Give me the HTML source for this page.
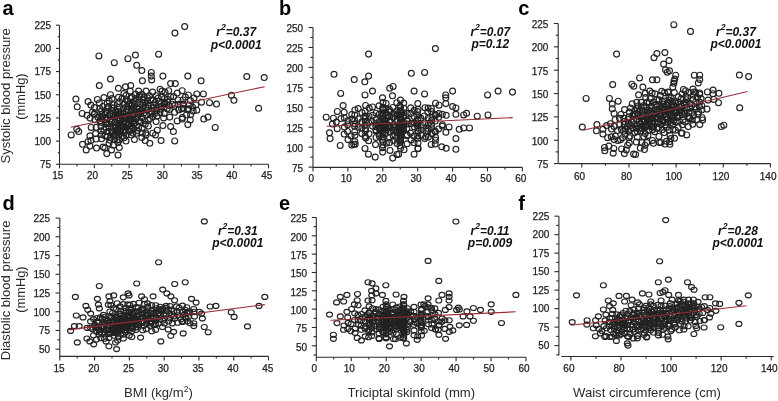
<!DOCTYPE html>
<html><head><meta charset="utf-8"><style>
html,body{margin:0;padding:0;background:#fff;width:778px;height:401px;overflow:hidden}
svg{display:block;will-change:transform}
</style></head><body>
<svg width="778" height="401" viewBox="0 0 778 401">
<g fill="none" stroke="#222" stroke-width="1.15">
<circle cx="98.9" cy="55.9" r="2.95"/>
<circle cx="114.3" cy="62.7" r="2.95"/>
<circle cx="127.9" cy="58.7" r="2.95"/>
<circle cx="135.4" cy="55.0" r="2.95"/>
<circle cx="158.6" cy="54.2" r="2.95"/>
<circle cx="136.7" cy="65.3" r="2.95"/>
<circle cx="141.8" cy="70.5" r="2.95"/>
<circle cx="151.3" cy="72.4" r="2.95"/>
<circle cx="151.3" cy="76.1" r="2.95"/>
<circle cx="151.7" cy="79.9" r="2.95"/>
<circle cx="162.9" cy="76.1" r="2.95"/>
<circle cx="110.5" cy="79.0" r="2.95"/>
<circle cx="99.3" cy="85.5" r="2.95"/>
<circle cx="118.4" cy="88.3" r="2.95"/>
<circle cx="125.5" cy="86.8" r="2.95"/>
<circle cx="130.7" cy="85.5" r="2.95"/>
<circle cx="142.4" cy="80.8" r="2.95"/>
<circle cx="130.2" cy="91.1" r="2.95"/>
<circle cx="138.6" cy="91.1" r="2.95"/>
<circle cx="146.1" cy="91.1" r="2.95"/>
<circle cx="152.6" cy="92.0" r="2.95"/>
<circle cx="160.1" cy="89.2" r="2.95"/>
<circle cx="162.0" cy="91.1" r="2.95"/>
<circle cx="184.7" cy="26.6" r="2.95"/>
<circle cx="174.9" cy="33.1" r="2.95"/>
<circle cx="187.8" cy="76.1" r="2.95"/>
<circle cx="201.1" cy="80.8" r="2.95"/>
<circle cx="246.8" cy="76.5" r="2.95"/>
<circle cx="264.2" cy="77.5" r="2.95"/>
<circle cx="170.6" cy="83.6" r="2.95"/>
<circle cx="175.3" cy="83.6" r="2.95"/>
<circle cx="168.7" cy="90.7" r="2.95"/>
<circle cx="177.2" cy="93.0" r="2.95"/>
<circle cx="182.2" cy="90.7" r="2.95"/>
<circle cx="188.4" cy="94.9" r="2.95"/>
<circle cx="196.8" cy="93.9" r="2.95"/>
<circle cx="203.4" cy="93.9" r="2.95"/>
<circle cx="165.0" cy="92.0" r="2.95"/>
<circle cx="75.9" cy="99.0" r="2.95"/>
<circle cx="77.2" cy="106.8" r="2.95"/>
<circle cx="82.1" cy="113.4" r="2.95"/>
<circle cx="87.1" cy="115.3" r="2.95"/>
<circle cx="88.1" cy="101.6" r="2.95"/>
<circle cx="90.9" cy="105.0" r="2.95"/>
<circle cx="94.6" cy="113.4" r="2.95"/>
<circle cx="97.4" cy="99.4" r="2.95"/>
<circle cx="104.0" cy="97.5" r="2.95"/>
<circle cx="110.5" cy="94.7" r="2.95"/>
<circle cx="71.2" cy="134.9" r="2.95"/>
<circle cx="76.8" cy="129.3" r="2.95"/>
<circle cx="78.7" cy="131.5" r="2.95"/>
<circle cx="82.5" cy="144.3" r="2.95"/>
<circle cx="86.2" cy="149.9" r="2.95"/>
<circle cx="89.9" cy="146.1" r="2.95"/>
<circle cx="96.5" cy="148.0" r="2.95"/>
<circle cx="90.9" cy="140.5" r="2.95"/>
<circle cx="88.1" cy="141.5" r="2.95"/>
<circle cx="104.9" cy="148.0" r="2.95"/>
<circle cx="106.8" cy="153.6" r="2.95"/>
<circle cx="111.5" cy="149.9" r="2.95"/>
<circle cx="113.3" cy="145.2" r="2.95"/>
<circle cx="118.0" cy="142.4" r="2.95"/>
<circle cx="118.0" cy="155.1" r="2.95"/>
<circle cx="142.4" cy="133.0" r="2.95"/>
<circle cx="146.1" cy="134.9" r="2.95"/>
<circle cx="145.2" cy="140.5" r="2.95"/>
<circle cx="149.8" cy="143.3" r="2.95"/>
<circle cx="155.5" cy="134.9" r="2.95"/>
<circle cx="157.3" cy="130.2" r="2.95"/>
<circle cx="161.1" cy="140.5" r="2.95"/>
<circle cx="162.9" cy="125.6" r="2.95"/>
<circle cx="133.0" cy="133.0" r="2.95"/>
<circle cx="138.6" cy="127.4" r="2.95"/>
<circle cx="231.4" cy="95.2" r="2.95"/>
<circle cx="233.9" cy="100.3" r="2.95"/>
<circle cx="258.6" cy="108.3" r="2.95"/>
<circle cx="216.5" cy="104.0" r="2.95"/>
<circle cx="209.5" cy="102.7" r="2.95"/>
<circle cx="194.0" cy="97.9" r="2.95"/>
<circle cx="201.5" cy="102.2" r="2.95"/>
<circle cx="208.0" cy="117.1" r="2.95"/>
<circle cx="203.7" cy="119.0" r="2.95"/>
<circle cx="215.2" cy="127.4" r="2.95"/>
<circle cx="190.3" cy="119.9" r="2.95"/>
<circle cx="187.8" cy="124.6" r="2.95"/>
<circle cx="182.2" cy="119.0" r="2.95"/>
<circle cx="177.2" cy="120.9" r="2.95"/>
<circle cx="173.4" cy="131.5" r="2.95"/>
<circle cx="174.7" cy="140.9" r="2.95"/>
<circle cx="193.1" cy="111.0" r="2.95"/>
<circle cx="196.8" cy="110.2" r="2.95"/>
<circle cx="188.4" cy="108.7" r="2.95"/>
<circle cx="181.5" cy="108.7" r="2.95"/>
<circle cx="183.3" cy="104.0" r="2.95"/>
<circle cx="170.6" cy="126.5" r="2.95"/>
<circle cx="142.2" cy="94.4" r="2.95"/>
<circle cx="139.8" cy="94.9" r="2.95"/>
<circle cx="135.5" cy="94.3" r="2.95"/>
<circle cx="123.9" cy="93.6" r="2.95"/>
<circle cx="126.0" cy="95.5" r="2.95"/>
<circle cx="149.5" cy="95.8" r="2.95"/>
<circle cx="156.1" cy="95.7" r="2.95"/>
<circle cx="173.6" cy="96.5" r="2.95"/>
<circle cx="185.3" cy="97.0" r="2.95"/>
<circle cx="170.6" cy="96.7" r="2.95"/>
<circle cx="161.7" cy="97.0" r="2.95"/>
<circle cx="147.6" cy="97.8" r="2.95"/>
<circle cx="144.2" cy="97.6" r="2.95"/>
<circle cx="139.3" cy="96.8" r="2.95"/>
<circle cx="132.1" cy="97.0" r="2.95"/>
<circle cx="118.5" cy="97.3" r="2.95"/>
<circle cx="112.0" cy="98.5" r="2.95"/>
<circle cx="122.0" cy="98.3" r="2.95"/>
<circle cx="130.3" cy="98.4" r="2.95"/>
<circle cx="136.0" cy="98.5" r="2.95"/>
<circle cx="158.2" cy="98.0" r="2.95"/>
<circle cx="164.5" cy="98.6" r="2.95"/>
<circle cx="167.6" cy="99.3" r="2.95"/>
<circle cx="190.5" cy="100.6" r="2.95"/>
<circle cx="183.0" cy="99.9" r="2.95"/>
<circle cx="178.0" cy="99.9" r="2.95"/>
<circle cx="153.3" cy="100.1" r="2.95"/>
<circle cx="150.8" cy="99.9" r="2.95"/>
<circle cx="143.4" cy="99.7" r="2.95"/>
<circle cx="126.2" cy="99.8" r="2.95"/>
<circle cx="109.2" cy="101.1" r="2.95"/>
<circle cx="119.6" cy="101.7" r="2.95"/>
<circle cx="127.7" cy="101.4" r="2.95"/>
<circle cx="134.1" cy="101.0" r="2.95"/>
<circle cx="138.0" cy="102.3" r="2.95"/>
<circle cx="147.3" cy="101.1" r="2.95"/>
<circle cx="159.3" cy="101.4" r="2.95"/>
<circle cx="167.7" cy="102.0" r="2.95"/>
<circle cx="164.8" cy="103.1" r="2.95"/>
<circle cx="161.1" cy="103.7" r="2.95"/>
<circle cx="154.9" cy="102.7" r="2.95"/>
<circle cx="145.0" cy="102.9" r="2.95"/>
<circle cx="142.7" cy="102.6" r="2.95"/>
<circle cx="124.1" cy="104.0" r="2.95"/>
<circle cx="117.4" cy="103.7" r="2.95"/>
<circle cx="107.2" cy="103.3" r="2.95"/>
<circle cx="99.4" cy="102.9" r="2.95"/>
<circle cx="113.4" cy="104.9" r="2.95"/>
<circle cx="129.1" cy="104.1" r="2.95"/>
<circle cx="131.7" cy="104.7" r="2.95"/>
<circle cx="134.5" cy="104.4" r="2.95"/>
<circle cx="140.8" cy="104.3" r="2.95"/>
<circle cx="148.3" cy="105.3" r="2.95"/>
<circle cx="153.2" cy="104.8" r="2.95"/>
<circle cx="163.9" cy="104.1" r="2.95"/>
<circle cx="169.1" cy="105.5" r="2.95"/>
<circle cx="172.4" cy="104.2" r="2.95"/>
<circle cx="175.0" cy="105.3" r="2.95"/>
<circle cx="178.3" cy="104.3" r="2.95"/>
<circle cx="183.1" cy="104.3" r="2.95"/>
<circle cx="189.2" cy="104.9" r="2.95"/>
<circle cx="195.8" cy="104.9" r="2.95"/>
<circle cx="161.4" cy="106.2" r="2.95"/>
<circle cx="130.9" cy="106.2" r="2.95"/>
<circle cx="126.9" cy="106.6" r="2.95"/>
<circle cx="108.4" cy="106.8" r="2.95"/>
<circle cx="102.9" cy="106.4" r="2.95"/>
<circle cx="94.3" cy="107.5" r="2.95"/>
<circle cx="107.4" cy="107.7" r="2.95"/>
<circle cx="111.8" cy="107.7" r="2.95"/>
<circle cx="113.6" cy="107.9" r="2.95"/>
<circle cx="119.5" cy="107.2" r="2.95"/>
<circle cx="123.4" cy="108.0" r="2.95"/>
<circle cx="133.2" cy="107.4" r="2.95"/>
<circle cx="142.6" cy="108.4" r="2.95"/>
<circle cx="145.9" cy="107.1" r="2.95"/>
<circle cx="148.2" cy="108.4" r="2.95"/>
<circle cx="153.7" cy="107.6" r="2.95"/>
<circle cx="164.0" cy="107.3" r="2.95"/>
<circle cx="183.3" cy="108.5" r="2.95"/>
<circle cx="192.7" cy="107.3" r="2.95"/>
<circle cx="187.7" cy="109.4" r="2.95"/>
<circle cx="178.9" cy="109.9" r="2.95"/>
<circle cx="169.4" cy="109.5" r="2.95"/>
<circle cx="167.2" cy="108.7" r="2.95"/>
<circle cx="160.8" cy="109.1" r="2.95"/>
<circle cx="156.3" cy="108.6" r="2.95"/>
<circle cx="139.4" cy="108.9" r="2.95"/>
<circle cx="137.0" cy="108.6" r="2.95"/>
<circle cx="131.5" cy="109.1" r="2.95"/>
<circle cx="128.3" cy="109.5" r="2.95"/>
<circle cx="100.0" cy="108.6" r="2.95"/>
<circle cx="101.6" cy="110.8" r="2.95"/>
<circle cx="111.3" cy="110.5" r="2.95"/>
<circle cx="118.2" cy="111.2" r="2.95"/>
<circle cx="121.2" cy="110.9" r="2.95"/>
<circle cx="141.3" cy="110.8" r="2.95"/>
<circle cx="147.0" cy="110.1" r="2.95"/>
<circle cx="151.5" cy="111.4" r="2.95"/>
<circle cx="156.9" cy="110.6" r="2.95"/>
<circle cx="174.6" cy="112.3" r="2.95"/>
<circle cx="159.9" cy="112.6" r="2.95"/>
<circle cx="139.6" cy="111.6" r="2.95"/>
<circle cx="135.7" cy="112.0" r="2.95"/>
<circle cx="130.7" cy="112.3" r="2.95"/>
<circle cx="126.3" cy="111.7" r="2.95"/>
<circle cx="115.5" cy="112.0" r="2.95"/>
<circle cx="106.3" cy="111.6" r="2.95"/>
<circle cx="92.4" cy="112.0" r="2.95"/>
<circle cx="94.3" cy="114.3" r="2.95"/>
<circle cx="109.7" cy="114.2" r="2.95"/>
<circle cx="113.1" cy="113.2" r="2.95"/>
<circle cx="118.8" cy="113.5" r="2.95"/>
<circle cx="120.5" cy="114.2" r="2.95"/>
<circle cx="122.9" cy="113.6" r="2.95"/>
<circle cx="134.3" cy="114.1" r="2.95"/>
<circle cx="137.9" cy="114.1" r="2.95"/>
<circle cx="140.5" cy="113.8" r="2.95"/>
<circle cx="143.6" cy="113.2" r="2.95"/>
<circle cx="150.7" cy="114.0" r="2.95"/>
<circle cx="154.7" cy="113.6" r="2.95"/>
<circle cx="164.3" cy="113.4" r="2.95"/>
<circle cx="190.6" cy="114.7" r="2.95"/>
<circle cx="186.5" cy="114.8" r="2.95"/>
<circle cx="157.0" cy="115.9" r="2.95"/>
<circle cx="146.6" cy="114.6" r="2.95"/>
<circle cx="133.4" cy="115.0" r="2.95"/>
<circle cx="131.2" cy="115.6" r="2.95"/>
<circle cx="127.3" cy="115.6" r="2.95"/>
<circle cx="117.1" cy="115.0" r="2.95"/>
<circle cx="115.3" cy="115.3" r="2.95"/>
<circle cx="109.8" cy="115.9" r="2.95"/>
<circle cx="104.7" cy="114.5" r="2.95"/>
<circle cx="101.7" cy="114.6" r="2.95"/>
<circle cx="97.9" cy="117.2" r="2.95"/>
<circle cx="101.5" cy="117.3" r="2.95"/>
<circle cx="107.8" cy="117.5" r="2.95"/>
<circle cx="114.4" cy="117.2" r="2.95"/>
<circle cx="121.0" cy="116.3" r="2.95"/>
<circle cx="125.4" cy="116.4" r="2.95"/>
<circle cx="129.3" cy="117.1" r="2.95"/>
<circle cx="137.7" cy="116.9" r="2.95"/>
<circle cx="152.8" cy="116.5" r="2.95"/>
<circle cx="169.7" cy="117.1" r="2.95"/>
<circle cx="182.4" cy="117.5" r="2.95"/>
<circle cx="163.6" cy="117.9" r="2.95"/>
<circle cx="149.9" cy="118.6" r="2.95"/>
<circle cx="141.8" cy="117.7" r="2.95"/>
<circle cx="136.0" cy="118.8" r="2.95"/>
<circle cx="131.7" cy="118.9" r="2.95"/>
<circle cx="130.0" cy="118.4" r="2.95"/>
<circle cx="126.2" cy="118.0" r="2.95"/>
<circle cx="123.5" cy="118.1" r="2.95"/>
<circle cx="118.7" cy="118.4" r="2.95"/>
<circle cx="106.1" cy="117.8" r="2.95"/>
<circle cx="101.5" cy="118.6" r="2.95"/>
<circle cx="90.1" cy="118.1" r="2.95"/>
<circle cx="94.8" cy="119.6" r="2.95"/>
<circle cx="105.7" cy="119.7" r="2.95"/>
<circle cx="109.9" cy="120.5" r="2.95"/>
<circle cx="116.5" cy="119.3" r="2.95"/>
<circle cx="120.2" cy="119.7" r="2.95"/>
<circle cx="128.9" cy="119.4" r="2.95"/>
<circle cx="144.8" cy="120.4" r="2.95"/>
<circle cx="148.3" cy="120.3" r="2.95"/>
<circle cx="156.1" cy="121.5" r="2.95"/>
<circle cx="140.9" cy="121.9" r="2.95"/>
<circle cx="138.7" cy="120.8" r="2.95"/>
<circle cx="132.4" cy="122.0" r="2.95"/>
<circle cx="130.4" cy="121.0" r="2.95"/>
<circle cx="124.3" cy="121.5" r="2.95"/>
<circle cx="99.8" cy="121.0" r="2.95"/>
<circle cx="101.7" cy="122.5" r="2.95"/>
<circle cx="106.9" cy="123.1" r="2.95"/>
<circle cx="111.4" cy="122.1" r="2.95"/>
<circle cx="114.9" cy="122.3" r="2.95"/>
<circle cx="118.9" cy="123.4" r="2.95"/>
<circle cx="122.5" cy="123.3" r="2.95"/>
<circle cx="125.7" cy="123.4" r="2.95"/>
<circle cx="135.0" cy="122.9" r="2.95"/>
<circle cx="145.2" cy="124.3" r="2.95"/>
<circle cx="133.7" cy="123.5" r="2.95"/>
<circle cx="128.9" cy="123.7" r="2.95"/>
<circle cx="126.0" cy="123.9" r="2.95"/>
<circle cx="118.7" cy="124.7" r="2.95"/>
<circle cx="109.0" cy="123.8" r="2.95"/>
<circle cx="106.0" cy="123.6" r="2.95"/>
<circle cx="100.9" cy="126.5" r="2.95"/>
<circle cx="115.9" cy="125.1" r="2.95"/>
<circle cx="122.7" cy="126.3" r="2.95"/>
<circle cx="131.3" cy="125.8" r="2.95"/>
<circle cx="136.4" cy="125.8" r="2.95"/>
<circle cx="148.4" cy="126.0" r="2.95"/>
<circle cx="132.4" cy="127.7" r="2.95"/>
<circle cx="124.7" cy="126.6" r="2.95"/>
<circle cx="120.7" cy="126.8" r="2.95"/>
<circle cx="115.3" cy="127.3" r="2.95"/>
<circle cx="113.2" cy="127.9" r="2.95"/>
<circle cx="109.4" cy="127.8" r="2.95"/>
<circle cx="105.9" cy="127.6" r="2.95"/>
<circle cx="96.1" cy="127.3" r="2.95"/>
<circle cx="91.2" cy="127.4" r="2.95"/>
<circle cx="117.4" cy="128.9" r="2.95"/>
<circle cx="129.9" cy="128.8" r="2.95"/>
<circle cx="133.4" cy="128.8" r="2.95"/>
<circle cx="142.2" cy="128.1" r="2.95"/>
<circle cx="137.2" cy="130.6" r="2.95"/>
<circle cx="125.6" cy="130.3" r="2.95"/>
<circle cx="123.3" cy="130.3" r="2.95"/>
<circle cx="119.5" cy="130.9" r="2.95"/>
<circle cx="111.9" cy="130.9" r="2.95"/>
<circle cx="103.8" cy="129.7" r="2.95"/>
<circle cx="101.1" cy="130.9" r="2.95"/>
<circle cx="107.9" cy="131.4" r="2.95"/>
<circle cx="115.7" cy="131.2" r="2.95"/>
<circle cx="120.4" cy="131.7" r="2.95"/>
<circle cx="129.8" cy="131.3" r="2.95"/>
<circle cx="152.8" cy="133.2" r="2.95"/>
<circle cx="145.8" cy="133.1" r="2.95"/>
<circle cx="136.4" cy="133.3" r="2.95"/>
<circle cx="123.9" cy="132.9" r="2.95"/>
<circle cx="116.9" cy="132.5" r="2.95"/>
<circle cx="111.8" cy="132.9" r="2.95"/>
<circle cx="95.6" cy="133.6" r="2.95"/>
<circle cx="101.4" cy="134.6" r="2.95"/>
<circle cx="114.0" cy="135.0" r="2.95"/>
<circle cx="118.3" cy="134.8" r="2.95"/>
<circle cx="126.2" cy="134.9" r="2.95"/>
<circle cx="131.3" cy="135.0" r="2.95"/>
<circle cx="122.3" cy="135.9" r="2.95"/>
<circle cx="115.4" cy="135.8" r="2.95"/>
<circle cx="107.5" cy="136.5" r="2.95"/>
<circle cx="105.1" cy="135.7" r="2.95"/>
<circle cx="89.9" cy="135.8" r="2.95"/>
<circle cx="110.8" cy="137.3" r="2.95"/>
<circle cx="124.1" cy="137.8" r="2.95"/>
<circle cx="141.8" cy="137.5" r="2.95"/>
<circle cx="134.4" cy="139.5" r="2.95"/>
<circle cx="119.2" cy="139.9" r="2.95"/>
<circle cx="114.6" cy="139.7" r="2.95"/>
<circle cx="101.6" cy="138.8" r="2.95"/>
<circle cx="96.0" cy="139.0" r="2.95"/>
<circle cx="109.7" cy="140.1" r="2.95"/>
<circle cx="117.0" cy="140.1" r="2.95"/>
<circle cx="126.0" cy="141.0" r="2.95"/>
<circle cx="109.0" cy="143.4" r="2.95"/>
<circle cx="103.1" cy="147.1" r="2.95"/>
<circle cx="119.3" cy="147.5" r="2.95"/>
<circle cx="368.6" cy="54.1" r="2.95"/>
<circle cx="334.0" cy="74.3" r="2.95"/>
<circle cx="354.2" cy="79.5" r="2.95"/>
<circle cx="368.6" cy="76.1" r="2.95"/>
<circle cx="364.8" cy="81.8" r="2.95"/>
<circle cx="411.3" cy="73.3" r="2.95"/>
<circle cx="372.5" cy="91.1" r="2.95"/>
<circle cx="389.7" cy="88.3" r="2.95"/>
<circle cx="393.1" cy="86.4" r="2.95"/>
<circle cx="414.1" cy="91.1" r="2.95"/>
<circle cx="340.7" cy="93.4" r="2.95"/>
<circle cx="365.0" cy="94.9" r="2.95"/>
<circle cx="392.5" cy="95.8" r="2.95"/>
<circle cx="435.4" cy="48.6" r="2.95"/>
<circle cx="424.6" cy="72.4" r="2.95"/>
<circle cx="424.6" cy="93.9" r="2.95"/>
<circle cx="445.7" cy="94.9" r="2.95"/>
<circle cx="452.6" cy="91.1" r="2.95"/>
<circle cx="487.6" cy="94.9" r="2.95"/>
<circle cx="498.1" cy="91.1" r="2.95"/>
<circle cx="512.5" cy="92.1" r="2.95"/>
<circle cx="326.2" cy="117.2" r="2.95"/>
<circle cx="329.5" cy="132.8" r="2.95"/>
<circle cx="330.1" cy="138.6" r="2.95"/>
<circle cx="340.2" cy="145.4" r="2.95"/>
<circle cx="353.8" cy="144.4" r="2.95"/>
<circle cx="368.4" cy="154.2" r="2.95"/>
<circle cx="375.2" cy="157.1" r="2.95"/>
<circle cx="392.7" cy="158.1" r="2.95"/>
<circle cx="398.6" cy="154.2" r="2.95"/>
<circle cx="400.5" cy="148.3" r="2.95"/>
<circle cx="414.1" cy="154.2" r="2.95"/>
<circle cx="332.4" cy="124.0" r="2.95"/>
<circle cx="337.3" cy="111.4" r="2.95"/>
<circle cx="343.1" cy="105.6" r="2.95"/>
<circle cx="333.4" cy="118.2" r="2.95"/>
<circle cx="336.3" cy="122.1" r="2.95"/>
<circle cx="348.0" cy="139.6" r="2.95"/>
<circle cx="354.8" cy="141.5" r="2.95"/>
<circle cx="445.8" cy="97.8" r="2.95"/>
<circle cx="435.5" cy="103.2" r="2.95"/>
<circle cx="439.0" cy="105.2" r="2.95"/>
<circle cx="445.8" cy="103.6" r="2.95"/>
<circle cx="452.6" cy="106.5" r="2.95"/>
<circle cx="455.9" cy="107.9" r="2.95"/>
<circle cx="455.9" cy="114.3" r="2.95"/>
<circle cx="463.7" cy="114.9" r="2.95"/>
<circle cx="466.6" cy="113.3" r="2.95"/>
<circle cx="477.3" cy="116.2" r="2.95"/>
<circle cx="488.0" cy="114.9" r="2.95"/>
<circle cx="442.3" cy="114.3" r="2.95"/>
<circle cx="446.2" cy="115.3" r="2.95"/>
<circle cx="449.1" cy="126.9" r="2.95"/>
<circle cx="459.2" cy="129.3" r="2.95"/>
<circle cx="463.7" cy="127.9" r="2.95"/>
<circle cx="469.5" cy="127.9" r="2.95"/>
<circle cx="455.9" cy="138.6" r="2.95"/>
<circle cx="435.5" cy="140.2" r="2.95"/>
<circle cx="431.2" cy="144.4" r="2.95"/>
<circle cx="441.7" cy="146.8" r="2.95"/>
<circle cx="446.2" cy="148.3" r="2.95"/>
<circle cx="455.9" cy="149.3" r="2.95"/>
<circle cx="418.0" cy="148.3" r="2.95"/>
<circle cx="435.5" cy="131.8" r="2.95"/>
<circle cx="442.3" cy="126.0" r="2.95"/>
<circle cx="431.6" cy="111.4" r="2.95"/>
<circle cx="435.5" cy="115.3" r="2.95"/>
<circle cx="425.8" cy="130.8" r="2.95"/>
<circle cx="425.8" cy="136.7" r="2.95"/>
<circle cx="382.5" cy="97.8" r="2.95"/>
<circle cx="400.5" cy="100.0" r="2.95"/>
<circle cx="383.0" cy="102.4" r="2.95"/>
<circle cx="386.1" cy="103.4" r="2.95"/>
<circle cx="396.8" cy="102.7" r="2.95"/>
<circle cx="403.7" cy="103.0" r="2.95"/>
<circle cx="417.8" cy="103.5" r="2.95"/>
<circle cx="365.6" cy="105.4" r="2.95"/>
<circle cx="379.0" cy="105.8" r="2.95"/>
<circle cx="399.9" cy="105.8" r="2.95"/>
<circle cx="424.9" cy="107.7" r="2.95"/>
<circle cx="410.7" cy="107.8" r="2.95"/>
<circle cx="400.5" cy="107.8" r="2.95"/>
<circle cx="392.9" cy="107.4" r="2.95"/>
<circle cx="382.8" cy="107.5" r="2.95"/>
<circle cx="372.5" cy="106.9" r="2.95"/>
<circle cx="358.2" cy="108.5" r="2.95"/>
<circle cx="369.2" cy="108.1" r="2.95"/>
<circle cx="383.1" cy="108.8" r="2.95"/>
<circle cx="385.9" cy="108.5" r="2.95"/>
<circle cx="389.4" cy="109.5" r="2.95"/>
<circle cx="403.8" cy="108.2" r="2.95"/>
<circle cx="418.1" cy="109.3" r="2.95"/>
<circle cx="428.1" cy="108.1" r="2.95"/>
<circle cx="431.4" cy="108.4" r="2.95"/>
<circle cx="414.1" cy="110.3" r="2.95"/>
<circle cx="399.9" cy="110.6" r="2.95"/>
<circle cx="396.5" cy="110.9" r="2.95"/>
<circle cx="382.8" cy="109.9" r="2.95"/>
<circle cx="354.9" cy="109.9" r="2.95"/>
<circle cx="344.2" cy="112.2" r="2.95"/>
<circle cx="365.1" cy="111.3" r="2.95"/>
<circle cx="389.6" cy="111.6" r="2.95"/>
<circle cx="400.2" cy="111.6" r="2.95"/>
<circle cx="417.5" cy="111.6" r="2.95"/>
<circle cx="427.8" cy="112.0" r="2.95"/>
<circle cx="438.9" cy="113.6" r="2.95"/>
<circle cx="410.8" cy="113.6" r="2.95"/>
<circle cx="407.3" cy="113.6" r="2.95"/>
<circle cx="403.5" cy="112.8" r="2.95"/>
<circle cx="400.6" cy="112.9" r="2.95"/>
<circle cx="393.6" cy="113.8" r="2.95"/>
<circle cx="386.0" cy="112.7" r="2.95"/>
<circle cx="382.7" cy="113.0" r="2.95"/>
<circle cx="376.0" cy="113.2" r="2.95"/>
<circle cx="362.0" cy="112.7" r="2.95"/>
<circle cx="351.7" cy="114.6" r="2.95"/>
<circle cx="354.8" cy="114.9" r="2.95"/>
<circle cx="372.6" cy="115.2" r="2.95"/>
<circle cx="379.4" cy="114.1" r="2.95"/>
<circle cx="382.6" cy="115.2" r="2.95"/>
<circle cx="396.8" cy="114.9" r="2.95"/>
<circle cx="397.1" cy="115.1" r="2.95"/>
<circle cx="400.5" cy="115.0" r="2.95"/>
<circle cx="417.7" cy="115.5" r="2.95"/>
<circle cx="435.2" cy="114.6" r="2.95"/>
<circle cx="424.3" cy="115.9" r="2.95"/>
<circle cx="414.0" cy="116.4" r="2.95"/>
<circle cx="404.0" cy="115.7" r="2.95"/>
<circle cx="400.2" cy="116.6" r="2.95"/>
<circle cx="389.5" cy="116.6" r="2.95"/>
<circle cx="386.3" cy="115.5" r="2.95"/>
<circle cx="383.0" cy="115.9" r="2.95"/>
<circle cx="369.0" cy="116.2" r="2.95"/>
<circle cx="365.2" cy="116.6" r="2.95"/>
<circle cx="365.3" cy="116.1" r="2.95"/>
<circle cx="344.4" cy="117.9" r="2.95"/>
<circle cx="383.0" cy="118.1" r="2.95"/>
<circle cx="386.3" cy="118.1" r="2.95"/>
<circle cx="393.2" cy="117.5" r="2.95"/>
<circle cx="400.2" cy="117.4" r="2.95"/>
<circle cx="399.9" cy="117.8" r="2.95"/>
<circle cx="420.8" cy="118.1" r="2.95"/>
<circle cx="428.3" cy="117.9" r="2.95"/>
<circle cx="432.0" cy="117.6" r="2.95"/>
<circle cx="438.7" cy="117.3" r="2.95"/>
<circle cx="417.6" cy="119.3" r="2.95"/>
<circle cx="407.0" cy="119.9" r="2.95"/>
<circle cx="400.3" cy="118.8" r="2.95"/>
<circle cx="400.6" cy="118.7" r="2.95"/>
<circle cx="397.0" cy="119.6" r="2.95"/>
<circle cx="382.8" cy="119.6" r="2.95"/>
<circle cx="376.1" cy="119.9" r="2.95"/>
<circle cx="365.1" cy="118.5" r="2.95"/>
<circle cx="358.4" cy="118.8" r="2.95"/>
<circle cx="351.8" cy="119.0" r="2.95"/>
<circle cx="341.0" cy="118.5" r="2.95"/>
<circle cx="347.9" cy="120.8" r="2.95"/>
<circle cx="354.7" cy="120.4" r="2.95"/>
<circle cx="379.3" cy="121.2" r="2.95"/>
<circle cx="383.2" cy="121.3" r="2.95"/>
<circle cx="385.9" cy="121.2" r="2.95"/>
<circle cx="390.0" cy="120.6" r="2.95"/>
<circle cx="397.0" cy="120.9" r="2.95"/>
<circle cx="400.6" cy="120.6" r="2.95"/>
<circle cx="407.4" cy="121.3" r="2.95"/>
<circle cx="417.9" cy="120.2" r="2.95"/>
<circle cx="431.7" cy="120.4" r="2.95"/>
<circle cx="435.2" cy="121.0" r="2.95"/>
<circle cx="424.6" cy="122.9" r="2.95"/>
<circle cx="417.3" cy="122.9" r="2.95"/>
<circle cx="404.0" cy="122.4" r="2.95"/>
<circle cx="400.3" cy="122.9" r="2.95"/>
<circle cx="389.5" cy="121.5" r="2.95"/>
<circle cx="382.8" cy="122.8" r="2.95"/>
<circle cx="379.3" cy="122.4" r="2.95"/>
<circle cx="372.2" cy="121.6" r="2.95"/>
<circle cx="368.7" cy="122.7" r="2.95"/>
<circle cx="365.4" cy="121.6" r="2.95"/>
<circle cx="362.0" cy="121.8" r="2.95"/>
<circle cx="355.0" cy="124.1" r="2.95"/>
<circle cx="375.8" cy="123.4" r="2.95"/>
<circle cx="385.9" cy="124.1" r="2.95"/>
<circle cx="400.0" cy="124.2" r="2.95"/>
<circle cx="400.0" cy="123.9" r="2.95"/>
<circle cx="407.3" cy="123.9" r="2.95"/>
<circle cx="411.0" cy="123.6" r="2.95"/>
<circle cx="414.4" cy="123.1" r="2.95"/>
<circle cx="417.9" cy="124.1" r="2.95"/>
<circle cx="428.4" cy="124.3" r="2.95"/>
<circle cx="431.5" cy="124.3" r="2.95"/>
<circle cx="442.4" cy="124.7" r="2.95"/>
<circle cx="421.3" cy="125.2" r="2.95"/>
<circle cx="417.4" cy="125.8" r="2.95"/>
<circle cx="403.4" cy="125.2" r="2.95"/>
<circle cx="399.9" cy="125.6" r="2.95"/>
<circle cx="393.5" cy="124.7" r="2.95"/>
<circle cx="389.6" cy="125.5" r="2.95"/>
<circle cx="386.0" cy="125.9" r="2.95"/>
<circle cx="382.9" cy="125.9" r="2.95"/>
<circle cx="382.7" cy="125.3" r="2.95"/>
<circle cx="365.0" cy="125.1" r="2.95"/>
<circle cx="347.6" cy="124.7" r="2.95"/>
<circle cx="344.4" cy="127.0" r="2.95"/>
<circle cx="354.6" cy="126.2" r="2.95"/>
<circle cx="358.2" cy="127.1" r="2.95"/>
<circle cx="372.5" cy="126.1" r="2.95"/>
<circle cx="375.8" cy="126.7" r="2.95"/>
<circle cx="379.2" cy="127.5" r="2.95"/>
<circle cx="382.8" cy="126.6" r="2.95"/>
<circle cx="385.9" cy="126.5" r="2.95"/>
<circle cx="393.2" cy="127.0" r="2.95"/>
<circle cx="396.7" cy="126.5" r="2.95"/>
<circle cx="400.0" cy="126.6" r="2.95"/>
<circle cx="403.4" cy="127.4" r="2.95"/>
<circle cx="414.5" cy="127.1" r="2.95"/>
<circle cx="438.6" cy="128.9" r="2.95"/>
<circle cx="431.4" cy="127.7" r="2.95"/>
<circle cx="428.3" cy="128.6" r="2.95"/>
<circle cx="418.0" cy="128.1" r="2.95"/>
<circle cx="406.8" cy="128.8" r="2.95"/>
<circle cx="403.4" cy="128.8" r="2.95"/>
<circle cx="400.0" cy="128.1" r="2.95"/>
<circle cx="400.4" cy="127.9" r="2.95"/>
<circle cx="389.5" cy="127.7" r="2.95"/>
<circle cx="383.0" cy="128.7" r="2.95"/>
<circle cx="365.5" cy="128.7" r="2.95"/>
<circle cx="361.9" cy="128.0" r="2.95"/>
<circle cx="337.2" cy="128.7" r="2.95"/>
<circle cx="376.2" cy="130.1" r="2.95"/>
<circle cx="379.5" cy="129.1" r="2.95"/>
<circle cx="382.8" cy="130.2" r="2.95"/>
<circle cx="386.1" cy="129.5" r="2.95"/>
<circle cx="393.4" cy="130.2" r="2.95"/>
<circle cx="400.2" cy="129.1" r="2.95"/>
<circle cx="400.3" cy="129.8" r="2.95"/>
<circle cx="403.6" cy="130.0" r="2.95"/>
<circle cx="421.3" cy="130.0" r="2.95"/>
<circle cx="434.8" cy="131.1" r="2.95"/>
<circle cx="428.0" cy="130.9" r="2.95"/>
<circle cx="418.1" cy="131.3" r="2.95"/>
<circle cx="418.0" cy="130.7" r="2.95"/>
<circle cx="403.6" cy="130.9" r="2.95"/>
<circle cx="400.5" cy="131.4" r="2.95"/>
<circle cx="396.6" cy="130.9" r="2.95"/>
<circle cx="393.6" cy="130.9" r="2.95"/>
<circle cx="376.0" cy="130.9" r="2.95"/>
<circle cx="365.3" cy="130.9" r="2.95"/>
<circle cx="354.7" cy="131.9" r="2.95"/>
<circle cx="347.5" cy="131.4" r="2.95"/>
<circle cx="383.1" cy="133.0" r="2.95"/>
<circle cx="385.9" cy="133.3" r="2.95"/>
<circle cx="390.0" cy="132.0" r="2.95"/>
<circle cx="397.1" cy="132.6" r="2.95"/>
<circle cx="400.3" cy="132.4" r="2.95"/>
<circle cx="410.5" cy="133.1" r="2.95"/>
<circle cx="445.9" cy="132.3" r="2.95"/>
<circle cx="432.0" cy="133.7" r="2.95"/>
<circle cx="421.4" cy="135.0" r="2.95"/>
<circle cx="407.2" cy="134.8" r="2.95"/>
<circle cx="400.2" cy="134.1" r="2.95"/>
<circle cx="382.7" cy="134.2" r="2.95"/>
<circle cx="379.1" cy="134.1" r="2.95"/>
<circle cx="369.0" cy="133.8" r="2.95"/>
<circle cx="361.8" cy="133.6" r="2.95"/>
<circle cx="344.2" cy="134.0" r="2.95"/>
<circle cx="351.1" cy="135.9" r="2.95"/>
<circle cx="355.0" cy="135.3" r="2.95"/>
<circle cx="365.2" cy="136.2" r="2.95"/>
<circle cx="379.3" cy="136.0" r="2.95"/>
<circle cx="393.1" cy="135.8" r="2.95"/>
<circle cx="400.5" cy="136.1" r="2.95"/>
<circle cx="400.6" cy="136.0" r="2.95"/>
<circle cx="406.8" cy="135.7" r="2.95"/>
<circle cx="414.0" cy="136.0" r="2.95"/>
<circle cx="417.6" cy="135.9" r="2.95"/>
<circle cx="435.5" cy="137.3" r="2.95"/>
<circle cx="428.4" cy="137.1" r="2.95"/>
<circle cx="396.6" cy="137.7" r="2.95"/>
<circle cx="389.6" cy="137.4" r="2.95"/>
<circle cx="382.9" cy="137.1" r="2.95"/>
<circle cx="376.1" cy="137.4" r="2.95"/>
<circle cx="365.7" cy="138.1" r="2.95"/>
<circle cx="400.1" cy="138.2" r="2.95"/>
<circle cx="400.6" cy="138.8" r="2.95"/>
<circle cx="417.8" cy="138.3" r="2.95"/>
<circle cx="424.7" cy="138.4" r="2.95"/>
<circle cx="411.1" cy="139.9" r="2.95"/>
<circle cx="400.0" cy="140.2" r="2.95"/>
<circle cx="393.5" cy="140.5" r="2.95"/>
<circle cx="382.5" cy="140.2" r="2.95"/>
<circle cx="368.6" cy="140.7" r="2.95"/>
<circle cx="383.1" cy="142.1" r="2.95"/>
<circle cx="389.6" cy="142.5" r="2.95"/>
<circle cx="400.5" cy="141.2" r="2.95"/>
<circle cx="435.2" cy="143.9" r="2.95"/>
<circle cx="418.0" cy="142.9" r="2.95"/>
<circle cx="414.1" cy="142.8" r="2.95"/>
<circle cx="407.1" cy="143.8" r="2.95"/>
<circle cx="400.1" cy="142.5" r="2.95"/>
<circle cx="397.1" cy="143.5" r="2.95"/>
<circle cx="386.4" cy="143.2" r="2.95"/>
<circle cx="351.8" cy="145.1" r="2.95"/>
<circle cx="355.2" cy="144.3" r="2.95"/>
<circle cx="375.5" cy="144.6" r="2.95"/>
<circle cx="382.8" cy="144.9" r="2.95"/>
<circle cx="399.9" cy="145.7" r="2.95"/>
<circle cx="365.0" cy="148.4" r="2.95"/>
<circle cx="382.5" cy="147.7" r="2.95"/>
<circle cx="418.0" cy="148.8" r="2.95"/>
<circle cx="404.0" cy="149.8" r="2.95"/>
<circle cx="390.0" cy="150.4" r="2.95"/>
<circle cx="382.7" cy="152.1" r="2.95"/>
<circle cx="396.9" cy="154.4" r="2.95"/>
<circle cx="616.6" cy="54.1" r="2.95"/>
<circle cx="656.9" cy="53.5" r="2.95"/>
<circle cx="654.0" cy="57.7" r="2.95"/>
<circle cx="664.9" cy="52.6" r="2.95"/>
<circle cx="663.6" cy="64.1" r="2.95"/>
<circle cx="665.5" cy="69.8" r="2.95"/>
<circle cx="639.6" cy="77.9" r="2.95"/>
<circle cx="612.7" cy="84.6" r="2.95"/>
<circle cx="631.9" cy="84.2" r="2.95"/>
<circle cx="633.8" cy="86.2" r="2.95"/>
<circle cx="642.9" cy="87.1" r="2.95"/>
<circle cx="652.5" cy="79.8" r="2.95"/>
<circle cx="656.9" cy="79.8" r="2.95"/>
<circle cx="649.8" cy="91.0" r="2.95"/>
<circle cx="652.1" cy="92.9" r="2.95"/>
<circle cx="661.7" cy="91.3" r="2.95"/>
<circle cx="638.6" cy="94.8" r="2.95"/>
<circle cx="645.3" cy="93.3" r="2.95"/>
<circle cx="673.8" cy="24.7" r="2.95"/>
<circle cx="690.5" cy="31.4" r="2.95"/>
<circle cx="669.0" cy="60.6" r="2.95"/>
<circle cx="669.5" cy="70.8" r="2.95"/>
<circle cx="675.7" cy="75.2" r="2.95"/>
<circle cx="674.7" cy="79.0" r="2.95"/>
<circle cx="673.8" cy="83.3" r="2.95"/>
<circle cx="672.8" cy="87.1" r="2.95"/>
<circle cx="694.3" cy="75.2" r="2.95"/>
<circle cx="699.7" cy="75.2" r="2.95"/>
<circle cx="699.7" cy="79.4" r="2.95"/>
<circle cx="698.3" cy="82.9" r="2.95"/>
<circle cx="739.4" cy="75.0" r="2.95"/>
<circle cx="748.6" cy="76.6" r="2.95"/>
<circle cx="683.4" cy="89.4" r="2.95"/>
<circle cx="693.0" cy="89.0" r="2.95"/>
<circle cx="693.9" cy="91.9" r="2.95"/>
<circle cx="699.7" cy="92.9" r="2.95"/>
<circle cx="707.4" cy="91.9" r="2.95"/>
<circle cx="713.1" cy="90.0" r="2.95"/>
<circle cx="718.9" cy="93.3" r="2.95"/>
<circle cx="668.0" cy="91.9" r="2.95"/>
<circle cx="586.1" cy="98.4" r="2.95"/>
<circle cx="609.4" cy="98.4" r="2.95"/>
<circle cx="618.2" cy="101.2" r="2.95"/>
<circle cx="582.3" cy="127.0" r="2.95"/>
<circle cx="596.9" cy="124.6" r="2.95"/>
<circle cx="596.4" cy="130.8" r="2.95"/>
<circle cx="602.9" cy="134.0" r="2.95"/>
<circle cx="604.8" cy="150.8" r="2.95"/>
<circle cx="608.9" cy="146.1" r="2.95"/>
<circle cx="613.8" cy="148.4" r="2.95"/>
<circle cx="613.2" cy="153.2" r="2.95"/>
<circle cx="617.9" cy="140.5" r="2.95"/>
<circle cx="621.6" cy="148.9" r="2.95"/>
<circle cx="626.3" cy="149.9" r="2.95"/>
<circle cx="627.6" cy="145.2" r="2.95"/>
<circle cx="624.4" cy="153.6" r="2.95"/>
<circle cx="635.6" cy="154.5" r="2.95"/>
<circle cx="640.3" cy="148.0" r="2.95"/>
<circle cx="645.0" cy="145.2" r="2.95"/>
<circle cx="644.4" cy="149.5" r="2.95"/>
<circle cx="653.4" cy="143.3" r="2.95"/>
<circle cx="660.9" cy="142.4" r="2.95"/>
<circle cx="602.9" cy="129.3" r="2.95"/>
<circle cx="606.6" cy="125.5" r="2.95"/>
<circle cx="610.4" cy="123.7" r="2.95"/>
<circle cx="612.3" cy="104.0" r="2.95"/>
<circle cx="614.1" cy="113.4" r="2.95"/>
<circle cx="612.3" cy="108.7" r="2.95"/>
<circle cx="607.6" cy="137.7" r="2.95"/>
<circle cx="611.3" cy="136.8" r="2.95"/>
<circle cx="614.1" cy="139.6" r="2.95"/>
<circle cx="622.5" cy="137.7" r="2.95"/>
<circle cx="629.1" cy="137.7" r="2.95"/>
<circle cx="739.7" cy="107.8" r="2.95"/>
<circle cx="721.3" cy="126.5" r="2.95"/>
<circle cx="723.8" cy="125.2" r="2.95"/>
<circle cx="718.5" cy="102.7" r="2.95"/>
<circle cx="713.8" cy="99.4" r="2.95"/>
<circle cx="712.9" cy="93.7" r="2.95"/>
<circle cx="686.7" cy="134.9" r="2.95"/>
<circle cx="682.0" cy="133.0" r="2.95"/>
<circle cx="699.8" cy="124.6" r="2.95"/>
<circle cx="702.6" cy="119.9" r="2.95"/>
<circle cx="675.5" cy="130.2" r="2.95"/>
<circle cx="670.8" cy="138.6" r="2.95"/>
<circle cx="669.9" cy="144.3" r="2.95"/>
<circle cx="674.5" cy="138.3" r="2.95"/>
<circle cx="689.5" cy="118.1" r="2.95"/>
<circle cx="692.3" cy="119.9" r="2.95"/>
<circle cx="697.9" cy="114.3" r="2.95"/>
<circle cx="667.3" cy="72.2" r="2.95"/>
<circle cx="674.0" cy="81.2" r="2.95"/>
<circle cx="604.5" cy="147.4" r="2.95"/>
<circle cx="633.6" cy="154.1" r="2.95"/>
<circle cx="665.0" cy="144.0" r="2.95"/>
<circle cx="669.5" cy="141.8" r="2.95"/>
<circle cx="685.6" cy="90.7" r="2.95"/>
<circle cx="664.5" cy="92.6" r="2.95"/>
<circle cx="668.3" cy="92.4" r="2.95"/>
<circle cx="674.3" cy="92.5" r="2.95"/>
<circle cx="689.1" cy="92.6" r="2.95"/>
<circle cx="695.6" cy="92.3" r="2.95"/>
<circle cx="699.7" cy="94.3" r="2.95"/>
<circle cx="682.0" cy="93.9" r="2.95"/>
<circle cx="655.0" cy="93.8" r="2.95"/>
<circle cx="660.3" cy="95.6" r="2.95"/>
<circle cx="693.3" cy="95.3" r="2.95"/>
<circle cx="697.3" cy="97.4" r="2.95"/>
<circle cx="687.7" cy="97.4" r="2.95"/>
<circle cx="685.9" cy="96.6" r="2.95"/>
<circle cx="678.3" cy="96.8" r="2.95"/>
<circle cx="671.0" cy="97.5" r="2.95"/>
<circle cx="669.0" cy="96.7" r="2.95"/>
<circle cx="645.7" cy="97.6" r="2.95"/>
<circle cx="650.2" cy="98.6" r="2.95"/>
<circle cx="681.2" cy="98.7" r="2.95"/>
<circle cx="701.1" cy="98.5" r="2.95"/>
<circle cx="708.0" cy="100.1" r="2.95"/>
<circle cx="692.8" cy="99.6" r="2.95"/>
<circle cx="686.4" cy="99.7" r="2.95"/>
<circle cx="674.8" cy="100.9" r="2.95"/>
<circle cx="669.3" cy="100.1" r="2.95"/>
<circle cx="664.3" cy="100.9" r="2.95"/>
<circle cx="659.1" cy="99.8" r="2.95"/>
<circle cx="656.7" cy="99.9" r="2.95"/>
<circle cx="636.8" cy="102.3" r="2.95"/>
<circle cx="641.2" cy="102.3" r="2.95"/>
<circle cx="646.8" cy="102.4" r="2.95"/>
<circle cx="653.5" cy="101.9" r="2.95"/>
<circle cx="662.6" cy="101.8" r="2.95"/>
<circle cx="672.0" cy="101.5" r="2.95"/>
<circle cx="678.5" cy="102.0" r="2.95"/>
<circle cx="695.6" cy="102.2" r="2.95"/>
<circle cx="699.6" cy="102.0" r="2.95"/>
<circle cx="690.0" cy="103.5" r="2.95"/>
<circle cx="686.2" cy="102.7" r="2.95"/>
<circle cx="683.4" cy="102.9" r="2.95"/>
<circle cx="675.8" cy="102.8" r="2.95"/>
<circle cx="668.4" cy="103.6" r="2.95"/>
<circle cx="649.3" cy="102.7" r="2.95"/>
<circle cx="632.2" cy="103.8" r="2.95"/>
<circle cx="643.7" cy="105.5" r="2.95"/>
<circle cx="656.2" cy="104.2" r="2.95"/>
<circle cx="663.3" cy="104.1" r="2.95"/>
<circle cx="666.2" cy="105.1" r="2.95"/>
<circle cx="671.8" cy="104.4" r="2.95"/>
<circle cx="684.8" cy="104.5" r="2.95"/>
<circle cx="701.7" cy="105.5" r="2.95"/>
<circle cx="699.4" cy="106.6" r="2.95"/>
<circle cx="695.1" cy="106.8" r="2.95"/>
<circle cx="691.7" cy="105.7" r="2.95"/>
<circle cx="681.7" cy="106.0" r="2.95"/>
<circle cx="675.8" cy="106.8" r="2.95"/>
<circle cx="668.6" cy="106.9" r="2.95"/>
<circle cx="659.8" cy="105.7" r="2.95"/>
<circle cx="656.8" cy="106.7" r="2.95"/>
<circle cx="651.8" cy="106.2" r="2.95"/>
<circle cx="638.1" cy="105.9" r="2.95"/>
<circle cx="630.5" cy="107.9" r="2.95"/>
<circle cx="641.3" cy="107.3" r="2.95"/>
<circle cx="645.8" cy="107.0" r="2.95"/>
<circle cx="649.5" cy="107.5" r="2.95"/>
<circle cx="662.5" cy="107.3" r="2.95"/>
<circle cx="672.4" cy="107.1" r="2.95"/>
<circle cx="679.7" cy="107.4" r="2.95"/>
<circle cx="686.5" cy="107.7" r="2.95"/>
<circle cx="690.0" cy="108.3" r="2.95"/>
<circle cx="707.0" cy="109.1" r="2.95"/>
<circle cx="701.8" cy="109.7" r="2.95"/>
<circle cx="695.5" cy="109.3" r="2.95"/>
<circle cx="680.7" cy="109.8" r="2.95"/>
<circle cx="676.2" cy="109.5" r="2.95"/>
<circle cx="668.4" cy="108.8" r="2.95"/>
<circle cx="665.2" cy="109.8" r="2.95"/>
<circle cx="661.1" cy="108.8" r="2.95"/>
<circle cx="658.8" cy="109.3" r="2.95"/>
<circle cx="655.8" cy="109.9" r="2.95"/>
<circle cx="637.3" cy="108.7" r="2.95"/>
<circle cx="624.6" cy="109.6" r="2.95"/>
<circle cx="634.8" cy="110.2" r="2.95"/>
<circle cx="639.5" cy="110.4" r="2.95"/>
<circle cx="643.1" cy="111.2" r="2.95"/>
<circle cx="648.6" cy="110.1" r="2.95"/>
<circle cx="664.0" cy="110.6" r="2.95"/>
<circle cx="669.9" cy="110.3" r="2.95"/>
<circle cx="673.7" cy="110.5" r="2.95"/>
<circle cx="674.4" cy="111.2" r="2.95"/>
<circle cx="679.8" cy="111.1" r="2.95"/>
<circle cx="683.9" cy="111.3" r="2.95"/>
<circle cx="698.5" cy="112.0" r="2.95"/>
<circle cx="691.8" cy="112.4" r="2.95"/>
<circle cx="688.9" cy="112.6" r="2.95"/>
<circle cx="681.6" cy="112.6" r="2.95"/>
<circle cx="676.6" cy="112.8" r="2.95"/>
<circle cx="669.3" cy="112.7" r="2.95"/>
<circle cx="667.8" cy="111.6" r="2.95"/>
<circle cx="660.6" cy="112.4" r="2.95"/>
<circle cx="657.5" cy="111.6" r="2.95"/>
<circle cx="650.4" cy="111.8" r="2.95"/>
<circle cx="646.8" cy="112.7" r="2.95"/>
<circle cx="629.3" cy="112.1" r="2.95"/>
<circle cx="620.9" cy="114.4" r="2.95"/>
<circle cx="633.3" cy="114.4" r="2.95"/>
<circle cx="635.1" cy="113.8" r="2.95"/>
<circle cx="642.1" cy="113.7" r="2.95"/>
<circle cx="649.4" cy="114.4" r="2.95"/>
<circle cx="652.2" cy="114.0" r="2.95"/>
<circle cx="653.9" cy="114.0" r="2.95"/>
<circle cx="656.1" cy="113.9" r="2.95"/>
<circle cx="660.7" cy="114.4" r="2.95"/>
<circle cx="665.1" cy="113.4" r="2.95"/>
<circle cx="670.7" cy="113.3" r="2.95"/>
<circle cx="684.8" cy="113.4" r="2.95"/>
<circle cx="693.5" cy="115.7" r="2.95"/>
<circle cx="682.3" cy="114.6" r="2.95"/>
<circle cx="679.4" cy="115.5" r="2.95"/>
<circle cx="670.1" cy="115.5" r="2.95"/>
<circle cx="664.8" cy="114.6" r="2.95"/>
<circle cx="658.5" cy="114.6" r="2.95"/>
<circle cx="643.8" cy="115.1" r="2.95"/>
<circle cx="637.7" cy="114.6" r="2.95"/>
<circle cx="628.9" cy="116.7" r="2.95"/>
<circle cx="632.9" cy="116.3" r="2.95"/>
<circle cx="640.4" cy="117.0" r="2.95"/>
<circle cx="646.9" cy="116.3" r="2.95"/>
<circle cx="649.4" cy="117.5" r="2.95"/>
<circle cx="655.9" cy="116.4" r="2.95"/>
<circle cx="660.8" cy="116.1" r="2.95"/>
<circle cx="665.3" cy="117.5" r="2.95"/>
<circle cx="672.5" cy="116.7" r="2.95"/>
<circle cx="676.8" cy="117.3" r="2.95"/>
<circle cx="677.5" cy="117.0" r="2.95"/>
<circle cx="688.7" cy="116.4" r="2.95"/>
<circle cx="702.2" cy="117.7" r="2.95"/>
<circle cx="689.3" cy="118.5" r="2.95"/>
<circle cx="673.1" cy="118.2" r="2.95"/>
<circle cx="667.5" cy="118.7" r="2.95"/>
<circle cx="658.0" cy="117.7" r="2.95"/>
<circle cx="655.8" cy="118.8" r="2.95"/>
<circle cx="652.3" cy="118.2" r="2.95"/>
<circle cx="651.2" cy="118.3" r="2.95"/>
<circle cx="647.7" cy="118.9" r="2.95"/>
<circle cx="643.4" cy="118.9" r="2.95"/>
<circle cx="636.8" cy="119.0" r="2.95"/>
<circle cx="623.7" cy="118.1" r="2.95"/>
<circle cx="619.5" cy="118.3" r="2.95"/>
<circle cx="615.1" cy="119.7" r="2.95"/>
<circle cx="627.9" cy="119.3" r="2.95"/>
<circle cx="649.3" cy="119.7" r="2.95"/>
<circle cx="661.9" cy="120.3" r="2.95"/>
<circle cx="670.7" cy="120.3" r="2.95"/>
<circle cx="683.0" cy="120.2" r="2.95"/>
<circle cx="696.7" cy="119.5" r="2.95"/>
<circle cx="685.2" cy="122.0" r="2.95"/>
<circle cx="679.5" cy="121.3" r="2.95"/>
<circle cx="673.8" cy="120.6" r="2.95"/>
<circle cx="665.0" cy="121.9" r="2.95"/>
<circle cx="663.2" cy="121.3" r="2.95"/>
<circle cx="658.5" cy="122.0" r="2.95"/>
<circle cx="647.9" cy="122.0" r="2.95"/>
<circle cx="644.7" cy="122.0" r="2.95"/>
<circle cx="641.8" cy="121.4" r="2.95"/>
<circle cx="638.9" cy="121.3" r="2.95"/>
<circle cx="633.9" cy="120.8" r="2.95"/>
<circle cx="624.0" cy="121.5" r="2.95"/>
<circle cx="628.4" cy="123.2" r="2.95"/>
<circle cx="631.5" cy="122.2" r="2.95"/>
<circle cx="649.3" cy="122.6" r="2.95"/>
<circle cx="655.1" cy="122.7" r="2.95"/>
<circle cx="657.2" cy="123.3" r="2.95"/>
<circle cx="667.5" cy="122.2" r="2.95"/>
<circle cx="670.9" cy="122.4" r="2.95"/>
<circle cx="676.2" cy="122.2" r="2.95"/>
<circle cx="692.7" cy="124.3" r="2.95"/>
<circle cx="682.5" cy="124.7" r="2.95"/>
<circle cx="672.6" cy="124.8" r="2.95"/>
<circle cx="664.9" cy="124.9" r="2.95"/>
<circle cx="660.9" cy="124.4" r="2.95"/>
<circle cx="653.0" cy="124.0" r="2.95"/>
<circle cx="645.9" cy="124.9" r="2.95"/>
<circle cx="640.3" cy="124.5" r="2.95"/>
<circle cx="634.2" cy="124.4" r="2.95"/>
<circle cx="624.2" cy="124.5" r="2.95"/>
<circle cx="619.9" cy="124.5" r="2.95"/>
<circle cx="614.1" cy="126.4" r="2.95"/>
<circle cx="627.4" cy="126.4" r="2.95"/>
<circle cx="630.6" cy="125.6" r="2.95"/>
<circle cx="637.3" cy="125.7" r="2.95"/>
<circle cx="643.0" cy="126.1" r="2.95"/>
<circle cx="649.4" cy="125.7" r="2.95"/>
<circle cx="653.7" cy="126.2" r="2.95"/>
<circle cx="688.3" cy="126.6" r="2.95"/>
<circle cx="678.2" cy="127.4" r="2.95"/>
<circle cx="666.4" cy="127.4" r="2.95"/>
<circle cx="658.5" cy="127.6" r="2.95"/>
<circle cx="652.5" cy="127.1" r="2.95"/>
<circle cx="646.2" cy="126.8" r="2.95"/>
<circle cx="640.0" cy="128.0" r="2.95"/>
<circle cx="611.5" cy="129.0" r="2.95"/>
<circle cx="621.3" cy="129.3" r="2.95"/>
<circle cx="625.3" cy="129.0" r="2.95"/>
<circle cx="630.6" cy="129.3" r="2.95"/>
<circle cx="632.8" cy="128.2" r="2.95"/>
<circle cx="636.7" cy="128.2" r="2.95"/>
<circle cx="642.0" cy="128.2" r="2.95"/>
<circle cx="644.4" cy="128.0" r="2.95"/>
<circle cx="656.9" cy="128.5" r="2.95"/>
<circle cx="673.0" cy="129.4" r="2.95"/>
<circle cx="669.2" cy="130.2" r="2.95"/>
<circle cx="662.3" cy="129.8" r="2.95"/>
<circle cx="652.5" cy="129.7" r="2.95"/>
<circle cx="648.8" cy="130.5" r="2.95"/>
<circle cx="617.5" cy="130.6" r="2.95"/>
<circle cx="623.5" cy="131.3" r="2.95"/>
<circle cx="628.6" cy="131.2" r="2.95"/>
<circle cx="637.4" cy="131.8" r="2.95"/>
<circle cx="641.1" cy="131.1" r="2.95"/>
<circle cx="654.7" cy="131.7" r="2.95"/>
<circle cx="681.4" cy="133.3" r="2.95"/>
<circle cx="664.1" cy="132.6" r="2.95"/>
<circle cx="645.2" cy="133.6" r="2.95"/>
<circle cx="634.7" cy="132.6" r="2.95"/>
<circle cx="625.2" cy="134.3" r="2.95"/>
<circle cx="647.9" cy="135.4" r="2.95"/>
<circle cx="670.1" cy="135.4" r="2.95"/>
<circle cx="658.9" cy="136.4" r="2.95"/>
<circle cx="643.8" cy="136.5" r="2.95"/>
<circle cx="637.3" cy="136.9" r="2.95"/>
<circle cx="630.0" cy="136.1" r="2.95"/>
<circle cx="615.3" cy="136.1" r="2.95"/>
<circle cx="620.5" cy="139.7" r="2.95"/>
<circle cx="652.4" cy="140.4" r="2.95"/>
<circle cx="666.4" cy="141.3" r="2.95"/>
<circle cx="659.3" cy="142.5" r="2.95"/>
<circle cx="646.8" cy="142.5" r="2.95"/>
<circle cx="642.0" cy="142.6" r="2.95"/>
<circle cx="636.3" cy="142.0" r="2.95"/>
<circle cx="629.3" cy="143.1" r="2.95"/>
<ellipse cx="158.6" cy="262.2" rx="3" ry="2.5"/>
<ellipse cx="136.7" cy="283.5" rx="3" ry="2.5"/>
<ellipse cx="99.3" cy="286.0" rx="3" ry="2.5"/>
<ellipse cx="204.3" cy="221.4" rx="3" ry="2.5"/>
<ellipse cx="174.7" cy="284.0" rx="3" ry="2.5"/>
<ellipse cx="185.2" cy="282.2" rx="3" ry="2.5"/>
<ellipse cx="75.4" cy="296.9" rx="3" ry="2.5"/>
<ellipse cx="97.4" cy="298.8" rx="3" ry="2.5"/>
<ellipse cx="98.4" cy="304.6" rx="3" ry="2.5"/>
<ellipse cx="99.3" cy="308.4" rx="3" ry="2.5"/>
<ellipse cx="85.9" cy="305.9" rx="3" ry="2.5"/>
<ellipse cx="87.8" cy="309.8" rx="3" ry="2.5"/>
<ellipse cx="90.7" cy="313.6" rx="3" ry="2.5"/>
<ellipse cx="108.9" cy="296.3" rx="3" ry="2.5"/>
<ellipse cx="113.7" cy="295.4" rx="3" ry="2.5"/>
<ellipse cx="109.9" cy="301.1" rx="3" ry="2.5"/>
<ellipse cx="110.9" cy="305.0" rx="3" ry="2.5"/>
<ellipse cx="123.3" cy="297.3" rx="3" ry="2.5"/>
<ellipse cx="128.1" cy="293.4" rx="3" ry="2.5"/>
<ellipse cx="129.1" cy="295.4" rx="3" ry="2.5"/>
<ellipse cx="141.6" cy="296.3" rx="3" ry="2.5"/>
<ellipse cx="144.5" cy="299.2" rx="3" ry="2.5"/>
<ellipse cx="153.1" cy="296.3" rx="3" ry="2.5"/>
<ellipse cx="162.7" cy="289.6" rx="3" ry="2.5"/>
<ellipse cx="76.3" cy="315.5" rx="3" ry="2.5"/>
<ellipse cx="83.0" cy="317.4" rx="3" ry="2.5"/>
<ellipse cx="70.6" cy="330.9" rx="3" ry="2.5"/>
<ellipse cx="77.3" cy="342.4" rx="3" ry="2.5"/>
<ellipse cx="86.9" cy="338.5" rx="3" ry="2.5"/>
<ellipse cx="89.8" cy="341.4" rx="3" ry="2.5"/>
<ellipse cx="96.5" cy="339.5" rx="3" ry="2.5"/>
<ellipse cx="106.1" cy="341.4" rx="3" ry="2.5"/>
<ellipse cx="108.9" cy="346.2" rx="3" ry="2.5"/>
<ellipse cx="116.6" cy="349.1" rx="3" ry="2.5"/>
<ellipse cx="123.3" cy="338.5" rx="3" ry="2.5"/>
<ellipse cx="117.6" cy="340.5" rx="3" ry="2.5"/>
<ellipse cx="140.6" cy="337.6" rx="3" ry="2.5"/>
<ellipse cx="160.8" cy="341.4" rx="3" ry="2.5"/>
<ellipse cx="74.4" cy="326.1" rx="3" ry="2.5"/>
<ellipse cx="79.2" cy="326.1" rx="3" ry="2.5"/>
<ellipse cx="264.8" cy="296.9" rx="3" ry="2.5"/>
<ellipse cx="259.0" cy="305.9" rx="3" ry="2.5"/>
<ellipse cx="191.5" cy="298.8" rx="3" ry="2.5"/>
<ellipse cx="196.1" cy="302.6" rx="3" ry="2.5"/>
<ellipse cx="210.1" cy="306.5" rx="3" ry="2.5"/>
<ellipse cx="215.9" cy="305.9" rx="3" ry="2.5"/>
<ellipse cx="231.2" cy="312.2" rx="3" ry="2.5"/>
<ellipse cx="234.1" cy="316.9" rx="3" ry="2.5"/>
<ellipse cx="247.5" cy="326.4" rx="3" ry="2.5"/>
<ellipse cx="202.4" cy="318.4" rx="3" ry="2.5"/>
<ellipse cx="204.3" cy="327.0" rx="3" ry="2.5"/>
<ellipse cx="208.2" cy="332.2" rx="3" ry="2.5"/>
<ellipse cx="183.2" cy="333.4" rx="3" ry="2.5"/>
<ellipse cx="170.8" cy="335.7" rx="3" ry="2.5"/>
<ellipse cx="173.6" cy="331.8" rx="3" ry="2.5"/>
<ellipse cx="174.6" cy="300.2" rx="3" ry="2.5"/>
<ellipse cx="170.8" cy="296.3" rx="3" ry="2.5"/>
<ellipse cx="166.9" cy="293.4" rx="3" ry="2.5"/>
<ellipse cx="188.0" cy="311.7" rx="3" ry="2.5"/>
<ellipse cx="193.8" cy="311.7" rx="3" ry="2.5"/>
<ellipse cx="199.5" cy="311.7" rx="3" ry="2.5"/>
<ellipse cx="201.5" cy="313.6" rx="3" ry="2.5"/>
<ellipse cx="190.0" cy="323.2" rx="3" ry="2.5"/>
<ellipse cx="193.8" cy="323.2" rx="3" ry="2.5"/>
<ellipse cx="182.3" cy="321.3" rx="3" ry="2.5"/>
<ellipse cx="186.1" cy="318.4" rx="3" ry="2.5"/>
<ellipse cx="139.1" cy="302.7" rx="3" ry="2.5"/>
<ellipse cx="117.1" cy="303.2" rx="3" ry="2.5"/>
<ellipse cx="123.3" cy="304.1" rx="3" ry="2.5"/>
<ellipse cx="127.8" cy="304.3" rx="3" ry="2.5"/>
<ellipse cx="133.4" cy="303.9" rx="3" ry="2.5"/>
<ellipse cx="144.4" cy="303.9" rx="3" ry="2.5"/>
<ellipse cx="147.6" cy="303.3" rx="3" ry="2.5"/>
<ellipse cx="182.5" cy="305.6" rx="3" ry="2.5"/>
<ellipse cx="170.0" cy="306.0" rx="3" ry="2.5"/>
<ellipse cx="166.2" cy="305.8" rx="3" ry="2.5"/>
<ellipse cx="155.8" cy="305.2" rx="3" ry="2.5"/>
<ellipse cx="151.5" cy="305.1" rx="3" ry="2.5"/>
<ellipse cx="129.8" cy="304.8" rx="3" ry="2.5"/>
<ellipse cx="108.3" cy="304.8" rx="3" ry="2.5"/>
<ellipse cx="120.2" cy="306.4" rx="3" ry="2.5"/>
<ellipse cx="136.2" cy="307.1" rx="3" ry="2.5"/>
<ellipse cx="147.8" cy="306.8" rx="3" ry="2.5"/>
<ellipse cx="160.2" cy="306.7" rx="3" ry="2.5"/>
<ellipse cx="176.5" cy="306.4" rx="3" ry="2.5"/>
<ellipse cx="186.8" cy="307.2" rx="3" ry="2.5"/>
<ellipse cx="179.1" cy="307.7" rx="3" ry="2.5"/>
<ellipse cx="165.7" cy="307.7" rx="3" ry="2.5"/>
<ellipse cx="162.9" cy="308.5" rx="3" ry="2.5"/>
<ellipse cx="156.2" cy="308.2" rx="3" ry="2.5"/>
<ellipse cx="142.6" cy="308.7" rx="3" ry="2.5"/>
<ellipse cx="138.3" cy="307.8" rx="3" ry="2.5"/>
<ellipse cx="129.2" cy="308.4" rx="3" ry="2.5"/>
<ellipse cx="125.1" cy="308.3" rx="3" ry="2.5"/>
<ellipse cx="113.6" cy="308.0" rx="3" ry="2.5"/>
<ellipse cx="116.2" cy="309.1" rx="3" ry="2.5"/>
<ellipse cx="131.1" cy="309.9" rx="3" ry="2.5"/>
<ellipse cx="141.4" cy="310.0" rx="3" ry="2.5"/>
<ellipse cx="143.7" cy="309.8" rx="3" ry="2.5"/>
<ellipse cx="147.4" cy="310.2" rx="3" ry="2.5"/>
<ellipse cx="159.1" cy="309.3" rx="3" ry="2.5"/>
<ellipse cx="161.4" cy="310.5" rx="3" ry="2.5"/>
<ellipse cx="171.2" cy="309.6" rx="3" ry="2.5"/>
<ellipse cx="185.3" cy="310.0" rx="3" ry="2.5"/>
<ellipse cx="193.8" cy="309.0" rx="3" ry="2.5"/>
<ellipse cx="182.3" cy="311.9" rx="3" ry="2.5"/>
<ellipse cx="177.4" cy="311.8" rx="3" ry="2.5"/>
<ellipse cx="173.8" cy="311.0" rx="3" ry="2.5"/>
<ellipse cx="166.3" cy="310.8" rx="3" ry="2.5"/>
<ellipse cx="156.2" cy="311.6" rx="3" ry="2.5"/>
<ellipse cx="151.9" cy="310.6" rx="3" ry="2.5"/>
<ellipse cx="137.6" cy="311.3" rx="3" ry="2.5"/>
<ellipse cx="133.3" cy="311.5" rx="3" ry="2.5"/>
<ellipse cx="129.3" cy="311.9" rx="3" ry="2.5"/>
<ellipse cx="123.7" cy="310.9" rx="3" ry="2.5"/>
<ellipse cx="120.7" cy="310.9" rx="3" ry="2.5"/>
<ellipse cx="109.9" cy="311.5" rx="3" ry="2.5"/>
<ellipse cx="112.5" cy="313.0" rx="3" ry="2.5"/>
<ellipse cx="125.8" cy="312.6" rx="3" ry="2.5"/>
<ellipse cx="134.4" cy="312.8" rx="3" ry="2.5"/>
<ellipse cx="141.4" cy="312.4" rx="3" ry="2.5"/>
<ellipse cx="146.6" cy="312.7" rx="3" ry="2.5"/>
<ellipse cx="150.3" cy="312.4" rx="3" ry="2.5"/>
<ellipse cx="153.7" cy="313.4" rx="3" ry="2.5"/>
<ellipse cx="158.8" cy="313.4" rx="3" ry="2.5"/>
<ellipse cx="169.4" cy="313.1" rx="3" ry="2.5"/>
<ellipse cx="186.9" cy="312.8" rx="3" ry="2.5"/>
<ellipse cx="189.9" cy="312.1" rx="3" ry="2.5"/>
<ellipse cx="184.5" cy="314.3" rx="3" ry="2.5"/>
<ellipse cx="163.7" cy="313.9" rx="3" ry="2.5"/>
<ellipse cx="157.5" cy="314.4" rx="3" ry="2.5"/>
<ellipse cx="142.7" cy="313.8" rx="3" ry="2.5"/>
<ellipse cx="132.4" cy="313.5" rx="3" ry="2.5"/>
<ellipse cx="128.8" cy="315.0" rx="3" ry="2.5"/>
<ellipse cx="124.0" cy="315.0" rx="3" ry="2.5"/>
<ellipse cx="119.9" cy="313.8" rx="3" ry="2.5"/>
<ellipse cx="103.5" cy="314.8" rx="3" ry="2.5"/>
<ellipse cx="108.9" cy="316.3" rx="3" ry="2.5"/>
<ellipse cx="115.6" cy="315.2" rx="3" ry="2.5"/>
<ellipse cx="128.0" cy="315.6" rx="3" ry="2.5"/>
<ellipse cx="132.8" cy="315.3" rx="3" ry="2.5"/>
<ellipse cx="136.7" cy="316.1" rx="3" ry="2.5"/>
<ellipse cx="139.1" cy="315.0" rx="3" ry="2.5"/>
<ellipse cx="146.0" cy="315.8" rx="3" ry="2.5"/>
<ellipse cx="147.2" cy="315.0" rx="3" ry="2.5"/>
<ellipse cx="150.9" cy="316.4" rx="3" ry="2.5"/>
<ellipse cx="160.6" cy="315.3" rx="3" ry="2.5"/>
<ellipse cx="165.9" cy="315.5" rx="3" ry="2.5"/>
<ellipse cx="171.5" cy="315.3" rx="3" ry="2.5"/>
<ellipse cx="173.9" cy="316.4" rx="3" ry="2.5"/>
<ellipse cx="178.0" cy="315.2" rx="3" ry="2.5"/>
<ellipse cx="194.5" cy="316.6" rx="3" ry="2.5"/>
<ellipse cx="188.3" cy="316.9" rx="3" ry="2.5"/>
<ellipse cx="185.1" cy="317.1" rx="3" ry="2.5"/>
<ellipse cx="156.7" cy="317.8" rx="3" ry="2.5"/>
<ellipse cx="153.5" cy="317.9" rx="3" ry="2.5"/>
<ellipse cx="148.3" cy="317.9" rx="3" ry="2.5"/>
<ellipse cx="142.2" cy="316.6" rx="3" ry="2.5"/>
<ellipse cx="131.9" cy="317.7" rx="3" ry="2.5"/>
<ellipse cx="130.1" cy="316.9" rx="3" ry="2.5"/>
<ellipse cx="127.5" cy="317.7" rx="3" ry="2.5"/>
<ellipse cx="124.6" cy="317.1" rx="3" ry="2.5"/>
<ellipse cx="121.6" cy="317.7" rx="3" ry="2.5"/>
<ellipse cx="117.9" cy="317.3" rx="3" ry="2.5"/>
<ellipse cx="116.2" cy="316.5" rx="3" ry="2.5"/>
<ellipse cx="111.0" cy="317.3" rx="3" ry="2.5"/>
<ellipse cx="104.2" cy="317.0" rx="3" ry="2.5"/>
<ellipse cx="100.4" cy="317.4" rx="3" ry="2.5"/>
<ellipse cx="93.5" cy="319.1" rx="3" ry="2.5"/>
<ellipse cx="96.9" cy="318.0" rx="3" ry="2.5"/>
<ellipse cx="102.1" cy="318.6" rx="3" ry="2.5"/>
<ellipse cx="110.4" cy="318.2" rx="3" ry="2.5"/>
<ellipse cx="115.8" cy="318.4" rx="3" ry="2.5"/>
<ellipse cx="124.6" cy="319.1" rx="3" ry="2.5"/>
<ellipse cx="125.3" cy="319.2" rx="3" ry="2.5"/>
<ellipse cx="133.7" cy="318.7" rx="3" ry="2.5"/>
<ellipse cx="136.6" cy="318.2" rx="3" ry="2.5"/>
<ellipse cx="138.0" cy="319.5" rx="3" ry="2.5"/>
<ellipse cx="140.1" cy="318.4" rx="3" ry="2.5"/>
<ellipse cx="143.3" cy="318.2" rx="3" ry="2.5"/>
<ellipse cx="146.3" cy="318.5" rx="3" ry="2.5"/>
<ellipse cx="150.8" cy="318.9" rx="3" ry="2.5"/>
<ellipse cx="159.6" cy="319.2" rx="3" ry="2.5"/>
<ellipse cx="164.5" cy="318.2" rx="3" ry="2.5"/>
<ellipse cx="169.8" cy="318.2" rx="3" ry="2.5"/>
<ellipse cx="174.6" cy="318.4" rx="3" ry="2.5"/>
<ellipse cx="181.0" cy="319.3" rx="3" ry="2.5"/>
<ellipse cx="162.8" cy="320.6" rx="3" ry="2.5"/>
<ellipse cx="155.5" cy="320.6" rx="3" ry="2.5"/>
<ellipse cx="147.3" cy="320.4" rx="3" ry="2.5"/>
<ellipse cx="136.1" cy="320.6" rx="3" ry="2.5"/>
<ellipse cx="133.8" cy="320.3" rx="3" ry="2.5"/>
<ellipse cx="129.5" cy="319.7" rx="3" ry="2.5"/>
<ellipse cx="128.2" cy="320.5" rx="3" ry="2.5"/>
<ellipse cx="127.7" cy="320.6" rx="3" ry="2.5"/>
<ellipse cx="123.9" cy="320.1" rx="3" ry="2.5"/>
<ellipse cx="121.6" cy="319.7" rx="3" ry="2.5"/>
<ellipse cx="119.3" cy="319.5" rx="3" ry="2.5"/>
<ellipse cx="114.2" cy="320.9" rx="3" ry="2.5"/>
<ellipse cx="107.9" cy="320.1" rx="3" ry="2.5"/>
<ellipse cx="90.6" cy="321.4" rx="3" ry="2.5"/>
<ellipse cx="96.7" cy="321.7" rx="3" ry="2.5"/>
<ellipse cx="103.6" cy="322.2" rx="3" ry="2.5"/>
<ellipse cx="110.9" cy="321.6" rx="3" ry="2.5"/>
<ellipse cx="113.2" cy="321.7" rx="3" ry="2.5"/>
<ellipse cx="119.3" cy="322.5" rx="3" ry="2.5"/>
<ellipse cx="123.6" cy="321.6" rx="3" ry="2.5"/>
<ellipse cx="126.8" cy="322.3" rx="3" ry="2.5"/>
<ellipse cx="134.0" cy="321.2" rx="3" ry="2.5"/>
<ellipse cx="134.7" cy="321.4" rx="3" ry="2.5"/>
<ellipse cx="138.5" cy="322.0" rx="3" ry="2.5"/>
<ellipse cx="141.6" cy="321.5" rx="3" ry="2.5"/>
<ellipse cx="149.9" cy="321.9" rx="3" ry="2.5"/>
<ellipse cx="168.6" cy="321.5" rx="3" ry="2.5"/>
<ellipse cx="182.6" cy="321.9" rx="3" ry="2.5"/>
<ellipse cx="187.4" cy="321.3" rx="3" ry="2.5"/>
<ellipse cx="177.7" cy="322.7" rx="3" ry="2.5"/>
<ellipse cx="172.3" cy="323.4" rx="3" ry="2.5"/>
<ellipse cx="164.4" cy="323.4" rx="3" ry="2.5"/>
<ellipse cx="158.3" cy="323.6" rx="3" ry="2.5"/>
<ellipse cx="155.6" cy="323.9" rx="3" ry="2.5"/>
<ellipse cx="150.8" cy="323.5" rx="3" ry="2.5"/>
<ellipse cx="146.4" cy="323.8" rx="3" ry="2.5"/>
<ellipse cx="141.9" cy="323.0" rx="3" ry="2.5"/>
<ellipse cx="136.6" cy="324.0" rx="3" ry="2.5"/>
<ellipse cx="133.7" cy="323.1" rx="3" ry="2.5"/>
<ellipse cx="131.5" cy="323.2" rx="3" ry="2.5"/>
<ellipse cx="128.3" cy="323.3" rx="3" ry="2.5"/>
<ellipse cx="125.9" cy="323.7" rx="3" ry="2.5"/>
<ellipse cx="122.7" cy="323.6" rx="3" ry="2.5"/>
<ellipse cx="120.8" cy="323.3" rx="3" ry="2.5"/>
<ellipse cx="119.2" cy="323.9" rx="3" ry="2.5"/>
<ellipse cx="117.6" cy="322.8" rx="3" ry="2.5"/>
<ellipse cx="117.0" cy="323.9" rx="3" ry="2.5"/>
<ellipse cx="113.9" cy="323.5" rx="3" ry="2.5"/>
<ellipse cx="108.2" cy="322.8" rx="3" ry="2.5"/>
<ellipse cx="105.4" cy="323.4" rx="3" ry="2.5"/>
<ellipse cx="98.8" cy="322.5" rx="3" ry="2.5"/>
<ellipse cx="94.9" cy="324.9" rx="3" ry="2.5"/>
<ellipse cx="105.3" cy="324.6" rx="3" ry="2.5"/>
<ellipse cx="107.4" cy="325.4" rx="3" ry="2.5"/>
<ellipse cx="112.3" cy="325.5" rx="3" ry="2.5"/>
<ellipse cx="117.0" cy="324.4" rx="3" ry="2.5"/>
<ellipse cx="118.3" cy="324.1" rx="3" ry="2.5"/>
<ellipse cx="120.7" cy="325.3" rx="3" ry="2.5"/>
<ellipse cx="128.5" cy="324.6" rx="3" ry="2.5"/>
<ellipse cx="138.9" cy="325.1" rx="3" ry="2.5"/>
<ellipse cx="154.1" cy="325.0" rx="3" ry="2.5"/>
<ellipse cx="193.8" cy="326.1" rx="3" ry="2.5"/>
<ellipse cx="162.5" cy="327.0" rx="3" ry="2.5"/>
<ellipse cx="150.3" cy="325.8" rx="3" ry="2.5"/>
<ellipse cx="143.6" cy="325.8" rx="3" ry="2.5"/>
<ellipse cx="131.9" cy="326.8" rx="3" ry="2.5"/>
<ellipse cx="127.1" cy="325.6" rx="3" ry="2.5"/>
<ellipse cx="126.3" cy="326.0" rx="3" ry="2.5"/>
<ellipse cx="124.7" cy="326.4" rx="3" ry="2.5"/>
<ellipse cx="120.0" cy="327.0" rx="3" ry="2.5"/>
<ellipse cx="116.9" cy="326.6" rx="3" ry="2.5"/>
<ellipse cx="113.4" cy="326.9" rx="3" ry="2.5"/>
<ellipse cx="110.1" cy="326.5" rx="3" ry="2.5"/>
<ellipse cx="110.0" cy="326.6" rx="3" ry="2.5"/>
<ellipse cx="104.2" cy="326.5" rx="3" ry="2.5"/>
<ellipse cx="102.0" cy="326.8" rx="3" ry="2.5"/>
<ellipse cx="98.2" cy="327.0" rx="3" ry="2.5"/>
<ellipse cx="95.3" cy="326.1" rx="3" ry="2.5"/>
<ellipse cx="87.2" cy="327.9" rx="3" ry="2.5"/>
<ellipse cx="90.5" cy="327.7" rx="3" ry="2.5"/>
<ellipse cx="95.8" cy="327.6" rx="3" ry="2.5"/>
<ellipse cx="102.5" cy="327.5" rx="3" ry="2.5"/>
<ellipse cx="115.3" cy="327.8" rx="3" ry="2.5"/>
<ellipse cx="117.1" cy="328.4" rx="3" ry="2.5"/>
<ellipse cx="118.4" cy="327.1" rx="3" ry="2.5"/>
<ellipse cx="120.3" cy="327.1" rx="3" ry="2.5"/>
<ellipse cx="123.2" cy="328.3" rx="3" ry="2.5"/>
<ellipse cx="126.0" cy="327.2" rx="3" ry="2.5"/>
<ellipse cx="128.9" cy="327.5" rx="3" ry="2.5"/>
<ellipse cx="130.4" cy="327.6" rx="3" ry="2.5"/>
<ellipse cx="136.4" cy="327.3" rx="3" ry="2.5"/>
<ellipse cx="168.2" cy="329.4" rx="3" ry="2.5"/>
<ellipse cx="155.7" cy="329.8" rx="3" ry="2.5"/>
<ellipse cx="146.1" cy="329.1" rx="3" ry="2.5"/>
<ellipse cx="132.6" cy="328.7" rx="3" ry="2.5"/>
<ellipse cx="125.0" cy="330.0" rx="3" ry="2.5"/>
<ellipse cx="120.8" cy="328.5" rx="3" ry="2.5"/>
<ellipse cx="115.4" cy="330.0" rx="3" ry="2.5"/>
<ellipse cx="113.7" cy="330.0" rx="3" ry="2.5"/>
<ellipse cx="112.0" cy="329.0" rx="3" ry="2.5"/>
<ellipse cx="109.3" cy="329.9" rx="3" ry="2.5"/>
<ellipse cx="108.0" cy="329.9" rx="3" ry="2.5"/>
<ellipse cx="105.2" cy="329.8" rx="3" ry="2.5"/>
<ellipse cx="98.9" cy="329.4" rx="3" ry="2.5"/>
<ellipse cx="92.6" cy="329.3" rx="3" ry="2.5"/>
<ellipse cx="106.5" cy="330.4" rx="3" ry="2.5"/>
<ellipse cx="117.9" cy="331.0" rx="3" ry="2.5"/>
<ellipse cx="121.4" cy="330.5" rx="3" ry="2.5"/>
<ellipse cx="129.1" cy="330.1" rx="3" ry="2.5"/>
<ellipse cx="131.8" cy="331.3" rx="3" ry="2.5"/>
<ellipse cx="135.8" cy="330.0" rx="3" ry="2.5"/>
<ellipse cx="142.7" cy="330.2" rx="3" ry="2.5"/>
<ellipse cx="151.8" cy="331.2" rx="3" ry="2.5"/>
<ellipse cx="125.7" cy="332.5" rx="3" ry="2.5"/>
<ellipse cx="116.2" cy="332.7" rx="3" ry="2.5"/>
<ellipse cx="114.1" cy="332.4" rx="3" ry="2.5"/>
<ellipse cx="109.2" cy="332.5" rx="3" ry="2.5"/>
<ellipse cx="104.6" cy="332.3" rx="3" ry="2.5"/>
<ellipse cx="99.7" cy="332.4" rx="3" ry="2.5"/>
<ellipse cx="96.2" cy="331.5" rx="3" ry="2.5"/>
<ellipse cx="98.9" cy="334.5" rx="3" ry="2.5"/>
<ellipse cx="102.0" cy="333.6" rx="3" ry="2.5"/>
<ellipse cx="108.4" cy="333.9" rx="3" ry="2.5"/>
<ellipse cx="112.0" cy="333.2" rx="3" ry="2.5"/>
<ellipse cx="118.1" cy="333.7" rx="3" ry="2.5"/>
<ellipse cx="121.0" cy="333.6" rx="3" ry="2.5"/>
<ellipse cx="129.3" cy="335.6" rx="3" ry="2.5"/>
<ellipse cx="122.9" cy="334.6" rx="3" ry="2.5"/>
<ellipse cx="113.9" cy="335.7" rx="3" ry="2.5"/>
<ellipse cx="93.5" cy="335.2" rx="3" ry="2.5"/>
<ellipse cx="118.4" cy="337.2" rx="3" ry="2.5"/>
<ellipse cx="131.8" cy="337.0" rx="3" ry="2.5"/>
<ellipse cx="108.9" cy="337.9" rx="3" ry="2.5"/>
<ellipse cx="104.5" cy="338.7" rx="3" ry="2.5"/>
<ellipse cx="100.9" cy="338.2" rx="3" ry="2.5"/>
<ellipse cx="115.5" cy="342.5" rx="3" ry="2.5"/>
<ellipse cx="93.7" cy="344.3" rx="3" ry="2.5"/>
<ellipse cx="455.9" cy="221.5" rx="3" ry="2.5"/>
<ellipse cx="368.0" cy="282.2" rx="3" ry="2.5"/>
<ellipse cx="372.1" cy="283.3" rx="3" ry="2.5"/>
<ellipse cx="385.8" cy="285.2" rx="3" ry="2.5"/>
<ellipse cx="375.9" cy="288.4" rx="3" ry="2.5"/>
<ellipse cx="371.6" cy="290.8" rx="3" ry="2.5"/>
<ellipse cx="375.9" cy="293.4" rx="3" ry="2.5"/>
<ellipse cx="371.8" cy="295.3" rx="3" ry="2.5"/>
<ellipse cx="382.4" cy="294.9" rx="3" ry="2.5"/>
<ellipse cx="396.1" cy="294.5" rx="3" ry="2.5"/>
<ellipse cx="340.3" cy="296.8" rx="3" ry="2.5"/>
<ellipse cx="346.9" cy="294.9" rx="3" ry="2.5"/>
<ellipse cx="336.6" cy="302.4" rx="3" ry="2.5"/>
<ellipse cx="343.7" cy="301.5" rx="3" ry="2.5"/>
<ellipse cx="357.5" cy="294.0" rx="3" ry="2.5"/>
<ellipse cx="357.2" cy="300.2" rx="3" ry="2.5"/>
<ellipse cx="354.4" cy="304.3" rx="3" ry="2.5"/>
<ellipse cx="358.1" cy="305.2" rx="3" ry="2.5"/>
<ellipse cx="368.0" cy="300.5" rx="3" ry="2.5"/>
<ellipse cx="372.1" cy="300.2" rx="3" ry="2.5"/>
<ellipse cx="404.0" cy="296.8" rx="3" ry="2.5"/>
<ellipse cx="329.5" cy="314.6" rx="3" ry="2.5"/>
<ellipse cx="351.6" cy="309.0" rx="3" ry="2.5"/>
<ellipse cx="346.9" cy="311.8" rx="3" ry="2.5"/>
<ellipse cx="340.3" cy="316.4" rx="3" ry="2.5"/>
<ellipse cx="333.4" cy="334.7" rx="3" ry="2.5"/>
<ellipse cx="333.4" cy="338.8" rx="3" ry="2.5"/>
<ellipse cx="337.0" cy="323.1" rx="3" ry="2.5"/>
<ellipse cx="343.5" cy="329.7" rx="3" ry="2.5"/>
<ellipse cx="350.7" cy="331.1" rx="3" ry="2.5"/>
<ellipse cx="357.2" cy="337.9" rx="3" ry="2.5"/>
<ellipse cx="365.2" cy="336.4" rx="3" ry="2.5"/>
<ellipse cx="371.7" cy="335.9" rx="3" ry="2.5"/>
<ellipse cx="378.9" cy="338.3" rx="3" ry="2.5"/>
<ellipse cx="386.1" cy="337.3" rx="3" ry="2.5"/>
<ellipse cx="389.5" cy="346.3" rx="3" ry="2.5"/>
<ellipse cx="406.4" cy="343.4" rx="3" ry="2.5"/>
<ellipse cx="395.5" cy="339.1" rx="3" ry="2.5"/>
<ellipse cx="402.8" cy="337.9" rx="3" ry="2.5"/>
<ellipse cx="417.2" cy="339.8" rx="3" ry="2.5"/>
<ellipse cx="428.1" cy="260.9" rx="3" ry="2.5"/>
<ellipse cx="438.8" cy="280.9" rx="3" ry="2.5"/>
<ellipse cx="442.0" cy="294.9" rx="3" ry="2.5"/>
<ellipse cx="449.1" cy="293.4" rx="3" ry="2.5"/>
<ellipse cx="449.1" cy="296.8" rx="3" ry="2.5"/>
<ellipse cx="449.1" cy="300.5" rx="3" ry="2.5"/>
<ellipse cx="438.8" cy="300.5" rx="3" ry="2.5"/>
<ellipse cx="428.1" cy="298.3" rx="3" ry="2.5"/>
<ellipse cx="428.1" cy="304.3" rx="3" ry="2.5"/>
<ellipse cx="423.8" cy="304.3" rx="3" ry="2.5"/>
<ellipse cx="515.9" cy="294.9" rx="3" ry="2.5"/>
<ellipse cx="491.2" cy="304.3" rx="3" ry="2.5"/>
<ellipse cx="491.2" cy="311.8" rx="3" ry="2.5"/>
<ellipse cx="473.4" cy="308.0" rx="3" ry="2.5"/>
<ellipse cx="480.5" cy="309.9" rx="3" ry="2.5"/>
<ellipse cx="466.9" cy="311.4" rx="3" ry="2.5"/>
<ellipse cx="470.0" cy="316.4" rx="3" ry="2.5"/>
<ellipse cx="473.4" cy="320.7" rx="3" ry="2.5"/>
<ellipse cx="463.1" cy="316.4" rx="3" ry="2.5"/>
<ellipse cx="501.5" cy="323.0" rx="3" ry="2.5"/>
<ellipse cx="449.1" cy="307.1" rx="3" ry="2.5"/>
<ellipse cx="445.3" cy="309.9" rx="3" ry="2.5"/>
<ellipse cx="456.6" cy="309.9" rx="3" ry="2.5"/>
<ellipse cx="459.4" cy="309.5" rx="3" ry="2.5"/>
<ellipse cx="458.4" cy="307.6" rx="3" ry="2.5"/>
<ellipse cx="466.6" cy="324.9" rx="3" ry="2.5"/>
<ellipse cx="459.3" cy="325.3" rx="3" ry="2.5"/>
<ellipse cx="445.6" cy="338.8" rx="3" ry="2.5"/>
<ellipse cx="449.2" cy="331.8" rx="3" ry="2.5"/>
<ellipse cx="452.8" cy="330.4" rx="3" ry="2.5"/>
<ellipse cx="444.9" cy="328.9" rx="3" ry="2.5"/>
<ellipse cx="439.1" cy="324.9" rx="3" ry="2.5"/>
<ellipse cx="435.5" cy="329.6" rx="3" ry="2.5"/>
<ellipse cx="449.2" cy="320.2" rx="3" ry="2.5"/>
<ellipse cx="444.9" cy="320.2" rx="3" ry="2.5"/>
<ellipse cx="449.9" cy="326.8" rx="3" ry="2.5"/>
<ellipse cx="403.5" cy="300.8" rx="3" ry="2.5"/>
<ellipse cx="385.9" cy="300.9" rx="3" ry="2.5"/>
<ellipse cx="421.1" cy="304.5" rx="3" ry="2.5"/>
<ellipse cx="403.4" cy="304.1" rx="3" ry="2.5"/>
<ellipse cx="392.8" cy="304.5" rx="3" ry="2.5"/>
<ellipse cx="386.1" cy="304.4" rx="3" ry="2.5"/>
<ellipse cx="369.1" cy="306.3" rx="3" ry="2.5"/>
<ellipse cx="403.9" cy="305.2" rx="3" ry="2.5"/>
<ellipse cx="424.9" cy="306.0" rx="3" ry="2.5"/>
<ellipse cx="431.4" cy="307.7" rx="3" ry="2.5"/>
<ellipse cx="428.2" cy="307.3" rx="3" ry="2.5"/>
<ellipse cx="414.0" cy="306.9" rx="3" ry="2.5"/>
<ellipse cx="403.4" cy="307.5" rx="3" ry="2.5"/>
<ellipse cx="399.9" cy="306.5" rx="3" ry="2.5"/>
<ellipse cx="396.5" cy="307.3" rx="3" ry="2.5"/>
<ellipse cx="386.5" cy="306.8" rx="3" ry="2.5"/>
<ellipse cx="383.0" cy="306.7" rx="3" ry="2.5"/>
<ellipse cx="372.5" cy="308.2" rx="3" ry="2.5"/>
<ellipse cx="376.0" cy="309.0" rx="3" ry="2.5"/>
<ellipse cx="379.0" cy="309.5" rx="3" ry="2.5"/>
<ellipse cx="386.0" cy="308.7" rx="3" ry="2.5"/>
<ellipse cx="393.3" cy="309.1" rx="3" ry="2.5"/>
<ellipse cx="403.9" cy="309.1" rx="3" ry="2.5"/>
<ellipse cx="407.5" cy="308.2" rx="3" ry="2.5"/>
<ellipse cx="421.5" cy="308.7" rx="3" ry="2.5"/>
<ellipse cx="434.8" cy="308.3" rx="3" ry="2.5"/>
<ellipse cx="431.7" cy="310.1" rx="3" ry="2.5"/>
<ellipse cx="421.3" cy="310.0" rx="3" ry="2.5"/>
<ellipse cx="400.2" cy="310.1" rx="3" ry="2.5"/>
<ellipse cx="389.4" cy="310.0" rx="3" ry="2.5"/>
<ellipse cx="386.2" cy="311.0" rx="3" ry="2.5"/>
<ellipse cx="364.9" cy="310.3" rx="3" ry="2.5"/>
<ellipse cx="369.1" cy="312.4" rx="3" ry="2.5"/>
<ellipse cx="376.0" cy="311.5" rx="3" ry="2.5"/>
<ellipse cx="382.7" cy="311.1" rx="3" ry="2.5"/>
<ellipse cx="386.0" cy="311.9" rx="3" ry="2.5"/>
<ellipse cx="386.5" cy="311.3" rx="3" ry="2.5"/>
<ellipse cx="393.2" cy="312.4" rx="3" ry="2.5"/>
<ellipse cx="397.0" cy="311.6" rx="3" ry="2.5"/>
<ellipse cx="404.0" cy="311.9" rx="3" ry="2.5"/>
<ellipse cx="403.7" cy="311.4" rx="3" ry="2.5"/>
<ellipse cx="407.1" cy="311.3" rx="3" ry="2.5"/>
<ellipse cx="410.7" cy="311.6" rx="3" ry="2.5"/>
<ellipse cx="414.1" cy="312.0" rx="3" ry="2.5"/>
<ellipse cx="427.9" cy="311.6" rx="3" ry="2.5"/>
<ellipse cx="438.5" cy="312.9" rx="3" ry="2.5"/>
<ellipse cx="421.4" cy="313.7" rx="3" ry="2.5"/>
<ellipse cx="406.8" cy="313.7" rx="3" ry="2.5"/>
<ellipse cx="406.8" cy="313.0" rx="3" ry="2.5"/>
<ellipse cx="403.8" cy="312.5" rx="3" ry="2.5"/>
<ellipse cx="400.0" cy="312.8" rx="3" ry="2.5"/>
<ellipse cx="393.2" cy="312.7" rx="3" ry="2.5"/>
<ellipse cx="386.2" cy="313.0" rx="3" ry="2.5"/>
<ellipse cx="375.6" cy="313.1" rx="3" ry="2.5"/>
<ellipse cx="369.1" cy="313.1" rx="3" ry="2.5"/>
<ellipse cx="361.5" cy="314.0" rx="3" ry="2.5"/>
<ellipse cx="354.7" cy="313.3" rx="3" ry="2.5"/>
<ellipse cx="358.0" cy="314.9" rx="3" ry="2.5"/>
<ellipse cx="368.8" cy="315.3" rx="3" ry="2.5"/>
<ellipse cx="379.0" cy="314.1" rx="3" ry="2.5"/>
<ellipse cx="382.6" cy="314.9" rx="3" ry="2.5"/>
<ellipse cx="386.4" cy="315.1" rx="3" ry="2.5"/>
<ellipse cx="386.1" cy="314.4" rx="3" ry="2.5"/>
<ellipse cx="393.2" cy="315.0" rx="3" ry="2.5"/>
<ellipse cx="397.0" cy="314.4" rx="3" ry="2.5"/>
<ellipse cx="399.9" cy="314.4" rx="3" ry="2.5"/>
<ellipse cx="406.8" cy="314.5" rx="3" ry="2.5"/>
<ellipse cx="410.4" cy="315.1" rx="3" ry="2.5"/>
<ellipse cx="421.4" cy="315.3" rx="3" ry="2.5"/>
<ellipse cx="421.2" cy="314.8" rx="3" ry="2.5"/>
<ellipse cx="431.4" cy="315.1" rx="3" ry="2.5"/>
<ellipse cx="435.0" cy="314.3" rx="3" ry="2.5"/>
<ellipse cx="427.9" cy="316.4" rx="3" ry="2.5"/>
<ellipse cx="421.1" cy="316.5" rx="3" ry="2.5"/>
<ellipse cx="413.8" cy="315.8" rx="3" ry="2.5"/>
<ellipse cx="407.3" cy="315.6" rx="3" ry="2.5"/>
<ellipse cx="404.0" cy="315.9" rx="3" ry="2.5"/>
<ellipse cx="400.5" cy="315.8" rx="3" ry="2.5"/>
<ellipse cx="396.9" cy="315.8" rx="3" ry="2.5"/>
<ellipse cx="393.6" cy="317.0" rx="3" ry="2.5"/>
<ellipse cx="385.8" cy="315.5" rx="3" ry="2.5"/>
<ellipse cx="382.5" cy="316.6" rx="3" ry="2.5"/>
<ellipse cx="372.6" cy="315.7" rx="3" ry="2.5"/>
<ellipse cx="365.5" cy="316.4" rx="3" ry="2.5"/>
<ellipse cx="347.7" cy="317.4" rx="3" ry="2.5"/>
<ellipse cx="362.1" cy="317.2" rx="3" ry="2.5"/>
<ellipse cx="368.8" cy="318.1" rx="3" ry="2.5"/>
<ellipse cx="372.5" cy="317.9" rx="3" ry="2.5"/>
<ellipse cx="375.5" cy="317.3" rx="3" ry="2.5"/>
<ellipse cx="379.0" cy="318.0" rx="3" ry="2.5"/>
<ellipse cx="386.2" cy="318.4" rx="3" ry="2.5"/>
<ellipse cx="385.9" cy="317.3" rx="3" ry="2.5"/>
<ellipse cx="389.6" cy="317.4" rx="3" ry="2.5"/>
<ellipse cx="393.6" cy="318.4" rx="3" ry="2.5"/>
<ellipse cx="393.1" cy="317.8" rx="3" ry="2.5"/>
<ellipse cx="396.3" cy="318.2" rx="3" ry="2.5"/>
<ellipse cx="399.8" cy="318.0" rx="3" ry="2.5"/>
<ellipse cx="403.4" cy="318.2" rx="3" ry="2.5"/>
<ellipse cx="403.9" cy="317.4" rx="3" ry="2.5"/>
<ellipse cx="407.1" cy="318.0" rx="3" ry="2.5"/>
<ellipse cx="417.5" cy="317.4" rx="3" ry="2.5"/>
<ellipse cx="420.8" cy="317.3" rx="3" ry="2.5"/>
<ellipse cx="428.5" cy="317.1" rx="3" ry="2.5"/>
<ellipse cx="442.1" cy="318.3" rx="3" ry="2.5"/>
<ellipse cx="434.9" cy="318.9" rx="3" ry="2.5"/>
<ellipse cx="431.3" cy="319.7" rx="3" ry="2.5"/>
<ellipse cx="420.8" cy="319.8" rx="3" ry="2.5"/>
<ellipse cx="420.9" cy="319.8" rx="3" ry="2.5"/>
<ellipse cx="414.3" cy="319.2" rx="3" ry="2.5"/>
<ellipse cx="403.4" cy="318.7" rx="3" ry="2.5"/>
<ellipse cx="403.3" cy="318.6" rx="3" ry="2.5"/>
<ellipse cx="403.7" cy="319.8" rx="3" ry="2.5"/>
<ellipse cx="396.5" cy="319.4" rx="3" ry="2.5"/>
<ellipse cx="390.1" cy="319.0" rx="3" ry="2.5"/>
<ellipse cx="385.9" cy="318.6" rx="3" ry="2.5"/>
<ellipse cx="382.7" cy="319.6" rx="3" ry="2.5"/>
<ellipse cx="382.9" cy="319.0" rx="3" ry="2.5"/>
<ellipse cx="372.1" cy="319.9" rx="3" ry="2.5"/>
<ellipse cx="369.1" cy="319.7" rx="3" ry="2.5"/>
<ellipse cx="368.7" cy="318.9" rx="3" ry="2.5"/>
<ellipse cx="354.5" cy="320.0" rx="3" ry="2.5"/>
<ellipse cx="358.2" cy="320.3" rx="3" ry="2.5"/>
<ellipse cx="361.4" cy="320.6" rx="3" ry="2.5"/>
<ellipse cx="379.1" cy="320.7" rx="3" ry="2.5"/>
<ellipse cx="386.0" cy="320.9" rx="3" ry="2.5"/>
<ellipse cx="386.5" cy="320.7" rx="3" ry="2.5"/>
<ellipse cx="386.5" cy="320.4" rx="3" ry="2.5"/>
<ellipse cx="389.7" cy="321.4" rx="3" ry="2.5"/>
<ellipse cx="396.3" cy="320.1" rx="3" ry="2.5"/>
<ellipse cx="400.0" cy="320.8" rx="3" ry="2.5"/>
<ellipse cx="403.5" cy="320.2" rx="3" ry="2.5"/>
<ellipse cx="410.4" cy="321.4" rx="3" ry="2.5"/>
<ellipse cx="420.9" cy="320.6" rx="3" ry="2.5"/>
<ellipse cx="428.4" cy="320.2" rx="3" ry="2.5"/>
<ellipse cx="438.3" cy="321.3" rx="3" ry="2.5"/>
<ellipse cx="441.8" cy="321.7" rx="3" ry="2.5"/>
<ellipse cx="421.5" cy="323.0" rx="3" ry="2.5"/>
<ellipse cx="414.2" cy="322.2" rx="3" ry="2.5"/>
<ellipse cx="404.1" cy="321.7" rx="3" ry="2.5"/>
<ellipse cx="403.6" cy="322.8" rx="3" ry="2.5"/>
<ellipse cx="400.5" cy="322.1" rx="3" ry="2.5"/>
<ellipse cx="393.3" cy="322.8" rx="3" ry="2.5"/>
<ellipse cx="389.9" cy="321.8" rx="3" ry="2.5"/>
<ellipse cx="386.4" cy="321.7" rx="3" ry="2.5"/>
<ellipse cx="382.7" cy="322.0" rx="3" ry="2.5"/>
<ellipse cx="378.9" cy="322.3" rx="3" ry="2.5"/>
<ellipse cx="375.5" cy="321.5" rx="3" ry="2.5"/>
<ellipse cx="372.5" cy="322.4" rx="3" ry="2.5"/>
<ellipse cx="365.5" cy="321.5" rx="3" ry="2.5"/>
<ellipse cx="348.1" cy="322.9" rx="3" ry="2.5"/>
<ellipse cx="351.1" cy="323.9" rx="3" ry="2.5"/>
<ellipse cx="368.9" cy="323.4" rx="3" ry="2.5"/>
<ellipse cx="379.4" cy="324.5" rx="3" ry="2.5"/>
<ellipse cx="386.3" cy="323.9" rx="3" ry="2.5"/>
<ellipse cx="386.5" cy="324.5" rx="3" ry="2.5"/>
<ellipse cx="389.7" cy="323.9" rx="3" ry="2.5"/>
<ellipse cx="396.8" cy="323.6" rx="3" ry="2.5"/>
<ellipse cx="400.3" cy="323.5" rx="3" ry="2.5"/>
<ellipse cx="403.5" cy="323.3" rx="3" ry="2.5"/>
<ellipse cx="404.0" cy="323.3" rx="3" ry="2.5"/>
<ellipse cx="407.5" cy="324.0" rx="3" ry="2.5"/>
<ellipse cx="417.3" cy="323.4" rx="3" ry="2.5"/>
<ellipse cx="428.5" cy="324.2" rx="3" ry="2.5"/>
<ellipse cx="432.0" cy="324.4" rx="3" ry="2.5"/>
<ellipse cx="438.8" cy="325.2" rx="3" ry="2.5"/>
<ellipse cx="420.8" cy="325.4" rx="3" ry="2.5"/>
<ellipse cx="421.5" cy="325.0" rx="3" ry="2.5"/>
<ellipse cx="413.9" cy="324.7" rx="3" ry="2.5"/>
<ellipse cx="404.0" cy="325.5" rx="3" ry="2.5"/>
<ellipse cx="403.8" cy="324.6" rx="3" ry="2.5"/>
<ellipse cx="399.8" cy="325.4" rx="3" ry="2.5"/>
<ellipse cx="396.4" cy="325.9" rx="3" ry="2.5"/>
<ellipse cx="393.3" cy="324.9" rx="3" ry="2.5"/>
<ellipse cx="393.2" cy="325.3" rx="3" ry="2.5"/>
<ellipse cx="386.4" cy="325.8" rx="3" ry="2.5"/>
<ellipse cx="383.0" cy="324.9" rx="3" ry="2.5"/>
<ellipse cx="375.5" cy="326.0" rx="3" ry="2.5"/>
<ellipse cx="371.8" cy="325.5" rx="3" ry="2.5"/>
<ellipse cx="369.1" cy="325.0" rx="3" ry="2.5"/>
<ellipse cx="361.3" cy="325.7" rx="3" ry="2.5"/>
<ellipse cx="358.5" cy="324.6" rx="3" ry="2.5"/>
<ellipse cx="344.0" cy="325.5" rx="3" ry="2.5"/>
<ellipse cx="365.5" cy="326.5" rx="3" ry="2.5"/>
<ellipse cx="379.4" cy="327.1" rx="3" ry="2.5"/>
<ellipse cx="386.5" cy="326.3" rx="3" ry="2.5"/>
<ellipse cx="386.2" cy="326.3" rx="3" ry="2.5"/>
<ellipse cx="390.0" cy="326.8" rx="3" ry="2.5"/>
<ellipse cx="396.4" cy="326.7" rx="3" ry="2.5"/>
<ellipse cx="400.3" cy="326.5" rx="3" ry="2.5"/>
<ellipse cx="403.5" cy="326.1" rx="3" ry="2.5"/>
<ellipse cx="407.5" cy="326.7" rx="3" ry="2.5"/>
<ellipse cx="421.4" cy="327.1" rx="3" ry="2.5"/>
<ellipse cx="431.6" cy="328.1" rx="3" ry="2.5"/>
<ellipse cx="421.2" cy="327.7" rx="3" ry="2.5"/>
<ellipse cx="399.8" cy="328.0" rx="3" ry="2.5"/>
<ellipse cx="389.3" cy="328.2" rx="3" ry="2.5"/>
<ellipse cx="389.8" cy="327.8" rx="3" ry="2.5"/>
<ellipse cx="386.2" cy="327.7" rx="3" ry="2.5"/>
<ellipse cx="383.0" cy="327.8" rx="3" ry="2.5"/>
<ellipse cx="379.3" cy="328.8" rx="3" ry="2.5"/>
<ellipse cx="371.9" cy="328.2" rx="3" ry="2.5"/>
<ellipse cx="365.1" cy="328.4" rx="3" ry="2.5"/>
<ellipse cx="355.0" cy="328.6" rx="3" ry="2.5"/>
<ellipse cx="347.8" cy="329.0" rx="3" ry="2.5"/>
<ellipse cx="361.3" cy="329.7" rx="3" ry="2.5"/>
<ellipse cx="369.0" cy="329.8" rx="3" ry="2.5"/>
<ellipse cx="376.0" cy="329.2" rx="3" ry="2.5"/>
<ellipse cx="385.9" cy="330.4" rx="3" ry="2.5"/>
<ellipse cx="393.2" cy="330.0" rx="3" ry="2.5"/>
<ellipse cx="396.6" cy="329.2" rx="3" ry="2.5"/>
<ellipse cx="403.9" cy="330.2" rx="3" ry="2.5"/>
<ellipse cx="403.5" cy="329.3" rx="3" ry="2.5"/>
<ellipse cx="407.0" cy="329.8" rx="3" ry="2.5"/>
<ellipse cx="414.1" cy="330.4" rx="3" ry="2.5"/>
<ellipse cx="435.5" cy="329.2" rx="3" ry="2.5"/>
<ellipse cx="438.3" cy="329.8" rx="3" ry="2.5"/>
<ellipse cx="424.3" cy="330.8" rx="3" ry="2.5"/>
<ellipse cx="421.2" cy="331.2" rx="3" ry="2.5"/>
<ellipse cx="404.0" cy="331.8" rx="3" ry="2.5"/>
<ellipse cx="403.7" cy="331.8" rx="3" ry="2.5"/>
<ellipse cx="389.6" cy="331.9" rx="3" ry="2.5"/>
<ellipse cx="386.5" cy="330.6" rx="3" ry="2.5"/>
<ellipse cx="382.9" cy="331.7" rx="3" ry="2.5"/>
<ellipse cx="368.4" cy="331.1" rx="3" ry="2.5"/>
<ellipse cx="355.1" cy="332.8" rx="3" ry="2.5"/>
<ellipse cx="372.0" cy="332.3" rx="3" ry="2.5"/>
<ellipse cx="379.1" cy="333.4" rx="3" ry="2.5"/>
<ellipse cx="383.0" cy="332.6" rx="3" ry="2.5"/>
<ellipse cx="393.1" cy="332.7" rx="3" ry="2.5"/>
<ellipse cx="403.9" cy="332.8" rx="3" ry="2.5"/>
<ellipse cx="406.9" cy="332.1" rx="3" ry="2.5"/>
<ellipse cx="438.9" cy="334.8" rx="3" ry="2.5"/>
<ellipse cx="396.4" cy="333.9" rx="3" ry="2.5"/>
<ellipse cx="385.9" cy="334.3" rx="3" ry="2.5"/>
<ellipse cx="403.7" cy="335.5" rx="3" ry="2.5"/>
<ellipse cx="414.0" cy="335.2" rx="3" ry="2.5"/>
<ellipse cx="417.7" cy="336.2" rx="3" ry="2.5"/>
<ellipse cx="421.5" cy="335.5" rx="3" ry="2.5"/>
<ellipse cx="400.3" cy="337.7" rx="3" ry="2.5"/>
<ellipse cx="385.8" cy="337.9" rx="3" ry="2.5"/>
<ellipse cx="368.6" cy="337.2" rx="3" ry="2.5"/>
<ellipse cx="379.2" cy="339.0" rx="3" ry="2.5"/>
<ellipse cx="386.2" cy="338.3" rx="3" ry="2.5"/>
<ellipse cx="393.4" cy="339.0" rx="3" ry="2.5"/>
<ellipse cx="403.7" cy="338.4" rx="3" ry="2.5"/>
<ellipse cx="361.4" cy="340.4" rx="3" ry="2.5"/>
<ellipse cx="665.7" cy="220.1" rx="3" ry="2.5"/>
<ellipse cx="659.6" cy="261.2" rx="3" ry="2.5"/>
<ellipse cx="658.3" cy="282.2" rx="3" ry="2.5"/>
<ellipse cx="603.4" cy="285.2" rx="3" ry="2.5"/>
<ellipse cx="576.5" cy="295.3" rx="3" ry="2.5"/>
<ellipse cx="572.2" cy="322.1" rx="3" ry="2.5"/>
<ellipse cx="587.1" cy="320.2" rx="3" ry="2.5"/>
<ellipse cx="619.0" cy="295.9" rx="3" ry="2.5"/>
<ellipse cx="626.4" cy="295.9" rx="3" ry="2.5"/>
<ellipse cx="624.6" cy="301.5" rx="3" ry="2.5"/>
<ellipse cx="608.3" cy="300.5" rx="3" ry="2.5"/>
<ellipse cx="613.3" cy="303.3" rx="3" ry="2.5"/>
<ellipse cx="609.6" cy="306.1" rx="3" ry="2.5"/>
<ellipse cx="612.8" cy="309.9" rx="3" ry="2.5"/>
<ellipse cx="603.4" cy="309.5" rx="3" ry="2.5"/>
<ellipse cx="598.4" cy="316.4" rx="3" ry="2.5"/>
<ellipse cx="595.6" cy="320.2" rx="3" ry="2.5"/>
<ellipse cx="605.9" cy="314.6" rx="3" ry="2.5"/>
<ellipse cx="632.1" cy="299.6" rx="3" ry="2.5"/>
<ellipse cx="631.1" cy="305.2" rx="3" ry="2.5"/>
<ellipse cx="637.7" cy="302.4" rx="3" ry="2.5"/>
<ellipse cx="639.5" cy="304.3" rx="3" ry="2.5"/>
<ellipse cx="642.4" cy="293.4" rx="3" ry="2.5"/>
<ellipse cx="648.9" cy="294.5" rx="3" ry="2.5"/>
<ellipse cx="650.8" cy="301.5" rx="3" ry="2.5"/>
<ellipse cx="650.8" cy="304.3" rx="3" ry="2.5"/>
<ellipse cx="660.1" cy="293.0" rx="3" ry="2.5"/>
<ellipse cx="662.9" cy="292.1" rx="3" ry="2.5"/>
<ellipse cx="661.1" cy="300.5" rx="3" ry="2.5"/>
<ellipse cx="644.2" cy="308.0" rx="3" ry="2.5"/>
<ellipse cx="586.8" cy="324.6" rx="3" ry="2.5"/>
<ellipse cx="593.3" cy="328.2" rx="3" ry="2.5"/>
<ellipse cx="595.4" cy="336.2" rx="3" ry="2.5"/>
<ellipse cx="604.8" cy="336.9" rx="3" ry="2.5"/>
<ellipse cx="609.9" cy="336.9" rx="3" ry="2.5"/>
<ellipse cx="627.3" cy="343.4" rx="3" ry="2.5"/>
<ellipse cx="628.0" cy="345.6" rx="3" ry="2.5"/>
<ellipse cx="628.7" cy="336.9" rx="3" ry="2.5"/>
<ellipse cx="637.4" cy="338.3" rx="3" ry="2.5"/>
<ellipse cx="643.9" cy="334.7" rx="3" ry="2.5"/>
<ellipse cx="646.8" cy="336.9" rx="3" ry="2.5"/>
<ellipse cx="619.3" cy="335.4" rx="3" ry="2.5"/>
<ellipse cx="615.7" cy="334.7" rx="3" ry="2.5"/>
<ellipse cx="658.4" cy="335.4" rx="3" ry="2.5"/>
<ellipse cx="662.7" cy="334.7" rx="3" ry="2.5"/>
<ellipse cx="596.2" cy="325.3" rx="3" ry="2.5"/>
<ellipse cx="599.1" cy="328.9" rx="3" ry="2.5"/>
<ellipse cx="601.9" cy="331.1" rx="3" ry="2.5"/>
<ellipse cx="668.4" cy="279.6" rx="3" ry="2.5"/>
<ellipse cx="687.5" cy="282.2" rx="3" ry="2.5"/>
<ellipse cx="691.6" cy="287.1" rx="3" ry="2.5"/>
<ellipse cx="694.0" cy="289.7" rx="3" ry="2.5"/>
<ellipse cx="678.5" cy="294.9" rx="3" ry="2.5"/>
<ellipse cx="678.5" cy="300.5" rx="3" ry="2.5"/>
<ellipse cx="683.7" cy="299.6" rx="3" ry="2.5"/>
<ellipse cx="705.2" cy="297.2" rx="3" ry="2.5"/>
<ellipse cx="709.9" cy="297.2" rx="3" ry="2.5"/>
<ellipse cx="715.5" cy="303.3" rx="3" ry="2.5"/>
<ellipse cx="719.7" cy="303.9" rx="3" ry="2.5"/>
<ellipse cx="738.9" cy="302.8" rx="3" ry="2.5"/>
<ellipse cx="748.3" cy="295.3" rx="3" ry="2.5"/>
<ellipse cx="704.3" cy="306.1" rx="3" ry="2.5"/>
<ellipse cx="715.9" cy="310.8" rx="3" ry="2.5"/>
<ellipse cx="710.9" cy="313.6" rx="3" ry="2.5"/>
<ellipse cx="709.5" cy="317.4" rx="3" ry="2.5"/>
<ellipse cx="738.9" cy="323.9" rx="3" ry="2.5"/>
<ellipse cx="665.0" cy="290.2" rx="3" ry="2.5"/>
<ellipse cx="668.7" cy="294.9" rx="3" ry="2.5"/>
<ellipse cx="672.1" cy="299.6" rx="3" ry="2.5"/>
<ellipse cx="691.2" cy="303.3" rx="3" ry="2.5"/>
<ellipse cx="693.1" cy="305.8" rx="3" ry="2.5"/>
<ellipse cx="720.7" cy="327.2" rx="3" ry="2.5"/>
<ellipse cx="704.1" cy="327.5" rx="3" ry="2.5"/>
<ellipse cx="709.8" cy="308.0" rx="3" ry="2.5"/>
<ellipse cx="704.1" cy="320.2" rx="3" ry="2.5"/>
<ellipse cx="693.9" cy="334.0" rx="3" ry="2.5"/>
<ellipse cx="668.2" cy="339.3" rx="3" ry="2.5"/>
<ellipse cx="670.8" cy="331.1" rx="3" ry="2.5"/>
<ellipse cx="683.8" cy="329.6" rx="3" ry="2.5"/>
<ellipse cx="696.8" cy="328.2" rx="3" ry="2.5"/>
<ellipse cx="693.4" cy="299.5" rx="3" ry="2.5"/>
<ellipse cx="688.7" cy="299.6" rx="3" ry="2.5"/>
<ellipse cx="680.1" cy="301.1" rx="3" ry="2.5"/>
<ellipse cx="683.2" cy="301.7" rx="3" ry="2.5"/>
<ellipse cx="698.1" cy="301.8" rx="3" ry="2.5"/>
<ellipse cx="693.7" cy="303.4" rx="3" ry="2.5"/>
<ellipse cx="687.9" cy="303.3" rx="3" ry="2.5"/>
<ellipse cx="677.3" cy="303.6" rx="3" ry="2.5"/>
<ellipse cx="670.3" cy="303.4" rx="3" ry="2.5"/>
<ellipse cx="657.8" cy="304.8" rx="3" ry="2.5"/>
<ellipse cx="681.1" cy="304.4" rx="3" ry="2.5"/>
<ellipse cx="689.6" cy="304.2" rx="3" ry="2.5"/>
<ellipse cx="701.6" cy="307.0" rx="3" ry="2.5"/>
<ellipse cx="697.3" cy="306.8" rx="3" ry="2.5"/>
<ellipse cx="688.5" cy="306.6" rx="3" ry="2.5"/>
<ellipse cx="684.9" cy="305.5" rx="3" ry="2.5"/>
<ellipse cx="678.8" cy="306.8" rx="3" ry="2.5"/>
<ellipse cx="669.7" cy="306.1" rx="3" ry="2.5"/>
<ellipse cx="665.2" cy="305.6" rx="3" ry="2.5"/>
<ellipse cx="661.0" cy="305.8" rx="3" ry="2.5"/>
<ellipse cx="653.4" cy="305.7" rx="3" ry="2.5"/>
<ellipse cx="645.9" cy="305.8" rx="3" ry="2.5"/>
<ellipse cx="638.3" cy="308.4" rx="3" ry="2.5"/>
<ellipse cx="648.9" cy="307.6" rx="3" ry="2.5"/>
<ellipse cx="672.7" cy="308.5" rx="3" ry="2.5"/>
<ellipse cx="676.0" cy="307.8" rx="3" ry="2.5"/>
<ellipse cx="680.7" cy="308.2" rx="3" ry="2.5"/>
<ellipse cx="684.7" cy="308.2" rx="3" ry="2.5"/>
<ellipse cx="687.5" cy="307.9" rx="3" ry="2.5"/>
<ellipse cx="694.5" cy="307.5" rx="3" ry="2.5"/>
<ellipse cx="698.7" cy="309.2" rx="3" ry="2.5"/>
<ellipse cx="691.5" cy="309.6" rx="3" ry="2.5"/>
<ellipse cx="686.4" cy="309.5" rx="3" ry="2.5"/>
<ellipse cx="683.0" cy="309.8" rx="3" ry="2.5"/>
<ellipse cx="677.3" cy="308.6" rx="3" ry="2.5"/>
<ellipse cx="669.6" cy="309.1" rx="3" ry="2.5"/>
<ellipse cx="666.4" cy="309.3" rx="3" ry="2.5"/>
<ellipse cx="660.1" cy="309.9" rx="3" ry="2.5"/>
<ellipse cx="654.3" cy="310.0" rx="3" ry="2.5"/>
<ellipse cx="643.8" cy="309.8" rx="3" ry="2.5"/>
<ellipse cx="633.9" cy="309.2" rx="3" ry="2.5"/>
<ellipse cx="625.9" cy="310.7" rx="3" ry="2.5"/>
<ellipse cx="629.9" cy="311.1" rx="3" ry="2.5"/>
<ellipse cx="647.5" cy="310.5" rx="3" ry="2.5"/>
<ellipse cx="651.2" cy="311.5" rx="3" ry="2.5"/>
<ellipse cx="657.2" cy="310.3" rx="3" ry="2.5"/>
<ellipse cx="663.7" cy="310.4" rx="3" ry="2.5"/>
<ellipse cx="674.3" cy="310.5" rx="3" ry="2.5"/>
<ellipse cx="681.5" cy="310.7" rx="3" ry="2.5"/>
<ellipse cx="685.1" cy="311.4" rx="3" ry="2.5"/>
<ellipse cx="688.5" cy="311.2" rx="3" ry="2.5"/>
<ellipse cx="694.5" cy="310.5" rx="3" ry="2.5"/>
<ellipse cx="707.7" cy="310.1" rx="3" ry="2.5"/>
<ellipse cx="702.7" cy="313.0" rx="3" ry="2.5"/>
<ellipse cx="689.2" cy="311.6" rx="3" ry="2.5"/>
<ellipse cx="683.4" cy="312.4" rx="3" ry="2.5"/>
<ellipse cx="678.6" cy="312.6" rx="3" ry="2.5"/>
<ellipse cx="671.5" cy="311.5" rx="3" ry="2.5"/>
<ellipse cx="666.1" cy="312.6" rx="3" ry="2.5"/>
<ellipse cx="659.8" cy="312.7" rx="3" ry="2.5"/>
<ellipse cx="653.4" cy="312.0" rx="3" ry="2.5"/>
<ellipse cx="644.2" cy="312.4" rx="3" ry="2.5"/>
<ellipse cx="638.7" cy="312.6" rx="3" ry="2.5"/>
<ellipse cx="623.1" cy="313.0" rx="3" ry="2.5"/>
<ellipse cx="612.4" cy="313.7" rx="3" ry="2.5"/>
<ellipse cx="616.8" cy="314.3" rx="3" ry="2.5"/>
<ellipse cx="627.6" cy="313.7" rx="3" ry="2.5"/>
<ellipse cx="634.0" cy="313.0" rx="3" ry="2.5"/>
<ellipse cx="637.2" cy="313.9" rx="3" ry="2.5"/>
<ellipse cx="649.3" cy="313.4" rx="3" ry="2.5"/>
<ellipse cx="653.5" cy="314.2" rx="3" ry="2.5"/>
<ellipse cx="656.8" cy="314.1" rx="3" ry="2.5"/>
<ellipse cx="663.2" cy="313.1" rx="3" ry="2.5"/>
<ellipse cx="667.1" cy="313.3" rx="3" ry="2.5"/>
<ellipse cx="675.4" cy="313.8" rx="3" ry="2.5"/>
<ellipse cx="679.4" cy="313.2" rx="3" ry="2.5"/>
<ellipse cx="685.4" cy="313.6" rx="3" ry="2.5"/>
<ellipse cx="693.0" cy="313.2" rx="3" ry="2.5"/>
<ellipse cx="699.3" cy="313.7" rx="3" ry="2.5"/>
<ellipse cx="696.3" cy="315.1" rx="3" ry="2.5"/>
<ellipse cx="691.1" cy="314.9" rx="3" ry="2.5"/>
<ellipse cx="689.0" cy="315.8" rx="3" ry="2.5"/>
<ellipse cx="683.4" cy="315.1" rx="3" ry="2.5"/>
<ellipse cx="674.6" cy="316.0" rx="3" ry="2.5"/>
<ellipse cx="672.6" cy="315.2" rx="3" ry="2.5"/>
<ellipse cx="666.3" cy="315.5" rx="3" ry="2.5"/>
<ellipse cx="657.8" cy="315.0" rx="3" ry="2.5"/>
<ellipse cx="651.8" cy="314.6" rx="3" ry="2.5"/>
<ellipse cx="650.0" cy="315.0" rx="3" ry="2.5"/>
<ellipse cx="646.5" cy="315.4" rx="3" ry="2.5"/>
<ellipse cx="640.4" cy="315.0" rx="3" ry="2.5"/>
<ellipse cx="633.4" cy="314.9" rx="3" ry="2.5"/>
<ellipse cx="620.5" cy="315.1" rx="3" ry="2.5"/>
<ellipse cx="619.7" cy="316.2" rx="3" ry="2.5"/>
<ellipse cx="627.1" cy="317.4" rx="3" ry="2.5"/>
<ellipse cx="631.0" cy="317.4" rx="3" ry="2.5"/>
<ellipse cx="636.5" cy="317.0" rx="3" ry="2.5"/>
<ellipse cx="639.0" cy="316.3" rx="3" ry="2.5"/>
<ellipse cx="653.3" cy="317.1" rx="3" ry="2.5"/>
<ellipse cx="660.4" cy="316.1" rx="3" ry="2.5"/>
<ellipse cx="664.8" cy="317.0" rx="3" ry="2.5"/>
<ellipse cx="670.2" cy="316.1" rx="3" ry="2.5"/>
<ellipse cx="678.9" cy="317.1" rx="3" ry="2.5"/>
<ellipse cx="685.3" cy="316.5" rx="3" ry="2.5"/>
<ellipse cx="690.5" cy="317.5" rx="3" ry="2.5"/>
<ellipse cx="696.8" cy="316.7" rx="3" ry="2.5"/>
<ellipse cx="691.9" cy="317.9" rx="3" ry="2.5"/>
<ellipse cx="686.6" cy="318.5" rx="3" ry="2.5"/>
<ellipse cx="676.9" cy="317.8" rx="3" ry="2.5"/>
<ellipse cx="668.9" cy="318.8" rx="3" ry="2.5"/>
<ellipse cx="666.1" cy="319.0" rx="3" ry="2.5"/>
<ellipse cx="656.0" cy="318.6" rx="3" ry="2.5"/>
<ellipse cx="648.7" cy="317.9" rx="3" ry="2.5"/>
<ellipse cx="643.2" cy="318.6" rx="3" ry="2.5"/>
<ellipse cx="632.8" cy="318.9" rx="3" ry="2.5"/>
<ellipse cx="625.2" cy="318.4" rx="3" ry="2.5"/>
<ellipse cx="617.3" cy="318.0" rx="3" ry="2.5"/>
<ellipse cx="612.0" cy="318.1" rx="3" ry="2.5"/>
<ellipse cx="609.7" cy="318.2" rx="3" ry="2.5"/>
<ellipse cx="605.2" cy="320.4" rx="3" ry="2.5"/>
<ellipse cx="617.1" cy="320.2" rx="3" ry="2.5"/>
<ellipse cx="619.1" cy="320.3" rx="3" ry="2.5"/>
<ellipse cx="623.2" cy="319.9" rx="3" ry="2.5"/>
<ellipse cx="636.1" cy="319.4" rx="3" ry="2.5"/>
<ellipse cx="643.3" cy="319.4" rx="3" ry="2.5"/>
<ellipse cx="649.0" cy="319.6" rx="3" ry="2.5"/>
<ellipse cx="653.2" cy="319.2" rx="3" ry="2.5"/>
<ellipse cx="660.3" cy="319.2" rx="3" ry="2.5"/>
<ellipse cx="674.3" cy="320.0" rx="3" ry="2.5"/>
<ellipse cx="677.9" cy="319.8" rx="3" ry="2.5"/>
<ellipse cx="681.6" cy="319.1" rx="3" ry="2.5"/>
<ellipse cx="704.5" cy="320.0" rx="3" ry="2.5"/>
<ellipse cx="699.8" cy="321.0" rx="3" ry="2.5"/>
<ellipse cx="695.1" cy="321.9" rx="3" ry="2.5"/>
<ellipse cx="690.3" cy="320.5" rx="3" ry="2.5"/>
<ellipse cx="685.6" cy="321.2" rx="3" ry="2.5"/>
<ellipse cx="681.9" cy="321.4" rx="3" ry="2.5"/>
<ellipse cx="670.4" cy="320.9" rx="3" ry="2.5"/>
<ellipse cx="667.4" cy="320.6" rx="3" ry="2.5"/>
<ellipse cx="664.8" cy="321.1" rx="3" ry="2.5"/>
<ellipse cx="658.0" cy="321.8" rx="3" ry="2.5"/>
<ellipse cx="657.2" cy="320.8" rx="3" ry="2.5"/>
<ellipse cx="652.2" cy="321.3" rx="3" ry="2.5"/>
<ellipse cx="650.0" cy="320.7" rx="3" ry="2.5"/>
<ellipse cx="646.9" cy="320.5" rx="3" ry="2.5"/>
<ellipse cx="644.6" cy="321.0" rx="3" ry="2.5"/>
<ellipse cx="641.5" cy="320.5" rx="3" ry="2.5"/>
<ellipse cx="638.4" cy="320.7" rx="3" ry="2.5"/>
<ellipse cx="629.0" cy="320.8" rx="3" ry="2.5"/>
<ellipse cx="625.3" cy="321.1" rx="3" ry="2.5"/>
<ellipse cx="615.1" cy="321.8" rx="3" ry="2.5"/>
<ellipse cx="614.2" cy="321.9" rx="3" ry="2.5"/>
<ellipse cx="609.3" cy="322.1" rx="3" ry="2.5"/>
<ellipse cx="617.9" cy="322.1" rx="3" ry="2.5"/>
<ellipse cx="623.3" cy="323.3" rx="3" ry="2.5"/>
<ellipse cx="633.8" cy="322.2" rx="3" ry="2.5"/>
<ellipse cx="644.0" cy="322.9" rx="3" ry="2.5"/>
<ellipse cx="654.1" cy="322.1" rx="3" ry="2.5"/>
<ellipse cx="659.9" cy="322.6" rx="3" ry="2.5"/>
<ellipse cx="674.0" cy="322.6" rx="3" ry="2.5"/>
<ellipse cx="680.6" cy="324.2" rx="3" ry="2.5"/>
<ellipse cx="674.7" cy="324.4" rx="3" ry="2.5"/>
<ellipse cx="668.1" cy="324.0" rx="3" ry="2.5"/>
<ellipse cx="664.5" cy="324.1" rx="3" ry="2.5"/>
<ellipse cx="659.5" cy="324.0" rx="3" ry="2.5"/>
<ellipse cx="654.2" cy="324.1" rx="3" ry="2.5"/>
<ellipse cx="650.6" cy="324.6" rx="3" ry="2.5"/>
<ellipse cx="650.3" cy="324.4" rx="3" ry="2.5"/>
<ellipse cx="647.1" cy="323.7" rx="3" ry="2.5"/>
<ellipse cx="640.8" cy="324.7" rx="3" ry="2.5"/>
<ellipse cx="630.6" cy="324.9" rx="3" ry="2.5"/>
<ellipse cx="626.9" cy="324.9" rx="3" ry="2.5"/>
<ellipse cx="621.8" cy="323.8" rx="3" ry="2.5"/>
<ellipse cx="615.2" cy="323.7" rx="3" ry="2.5"/>
<ellipse cx="612.4" cy="324.4" rx="3" ry="2.5"/>
<ellipse cx="603.8" cy="326.1" rx="3" ry="2.5"/>
<ellipse cx="609.1" cy="326.1" rx="3" ry="2.5"/>
<ellipse cx="618.8" cy="325.2" rx="3" ry="2.5"/>
<ellipse cx="623.6" cy="325.1" rx="3" ry="2.5"/>
<ellipse cx="625.0" cy="325.1" rx="3" ry="2.5"/>
<ellipse cx="633.1" cy="325.5" rx="3" ry="2.5"/>
<ellipse cx="636.7" cy="326.1" rx="3" ry="2.5"/>
<ellipse cx="637.6" cy="325.6" rx="3" ry="2.5"/>
<ellipse cx="642.6" cy="325.4" rx="3" ry="2.5"/>
<ellipse cx="645.4" cy="325.3" rx="3" ry="2.5"/>
<ellipse cx="650.3" cy="326.4" rx="3" ry="2.5"/>
<ellipse cx="657.5" cy="326.2" rx="3" ry="2.5"/>
<ellipse cx="668.7" cy="325.9" rx="3" ry="2.5"/>
<ellipse cx="684.1" cy="326.2" rx="3" ry="2.5"/>
<ellipse cx="688.2" cy="326.2" rx="3" ry="2.5"/>
<ellipse cx="695.9" cy="325.9" rx="3" ry="2.5"/>
<ellipse cx="675.3" cy="327.4" rx="3" ry="2.5"/>
<ellipse cx="665.1" cy="327.8" rx="3" ry="2.5"/>
<ellipse cx="661.6" cy="326.6" rx="3" ry="2.5"/>
<ellipse cx="653.6" cy="326.7" rx="3" ry="2.5"/>
<ellipse cx="646.4" cy="327.4" rx="3" ry="2.5"/>
<ellipse cx="639.1" cy="327.0" rx="3" ry="2.5"/>
<ellipse cx="623.2" cy="326.8" rx="3" ry="2.5"/>
<ellipse cx="614.8" cy="327.1" rx="3" ry="2.5"/>
<ellipse cx="606.5" cy="328.2" rx="3" ry="2.5"/>
<ellipse cx="614.5" cy="328.9" rx="3" ry="2.5"/>
<ellipse cx="617.6" cy="328.0" rx="3" ry="2.5"/>
<ellipse cx="624.4" cy="329.1" rx="3" ry="2.5"/>
<ellipse cx="627.0" cy="328.2" rx="3" ry="2.5"/>
<ellipse cx="629.7" cy="329.3" rx="3" ry="2.5"/>
<ellipse cx="633.3" cy="329.3" rx="3" ry="2.5"/>
<ellipse cx="649.4" cy="328.1" rx="3" ry="2.5"/>
<ellipse cx="654.0" cy="328.1" rx="3" ry="2.5"/>
<ellipse cx="658.7" cy="328.6" rx="3" ry="2.5"/>
<ellipse cx="671.9" cy="329.4" rx="3" ry="2.5"/>
<ellipse cx="679.3" cy="330.2" rx="3" ry="2.5"/>
<ellipse cx="663.4" cy="329.6" rx="3" ry="2.5"/>
<ellipse cx="650.7" cy="330.3" rx="3" ry="2.5"/>
<ellipse cx="645.6" cy="330.6" rx="3" ry="2.5"/>
<ellipse cx="641.0" cy="329.5" rx="3" ry="2.5"/>
<ellipse cx="638.0" cy="330.1" rx="3" ry="2.5"/>
<ellipse cx="616.7" cy="330.6" rx="3" ry="2.5"/>
<ellipse cx="610.6" cy="329.9" rx="3" ry="2.5"/>
<ellipse cx="621.8" cy="331.6" rx="3" ry="2.5"/>
<ellipse cx="634.2" cy="331.8" rx="3" ry="2.5"/>
<ellipse cx="658.3" cy="332.8" rx="3" ry="2.5"/>
<ellipse cx="653.4" cy="332.5" rx="3" ry="2.5"/>
<ellipse cx="644.1" cy="332.8" rx="3" ry="2.5"/>
<ellipse cx="630.2" cy="333.8" rx="3" ry="2.5"/>
<ellipse cx="624.3" cy="333.2" rx="3" ry="2.5"/>
<ellipse cx="618.3" cy="332.9" rx="3" ry="2.5"/>
<ellipse cx="613.6" cy="333.7" rx="3" ry="2.5"/>
<ellipse cx="600.4" cy="333.4" rx="3" ry="2.5"/>
<ellipse cx="621.1" cy="334.3" rx="3" ry="2.5"/>
<ellipse cx="667.8" cy="336.6" rx="3" ry="2.5"/>
<ellipse cx="637.5" cy="335.9" rx="3" ry="2.5"/>
<ellipse cx="627.4" cy="336.2" rx="3" ry="2.5"/>
<ellipse cx="612.1" cy="336.7" rx="3" ry="2.5"/>
<ellipse cx="605.9" cy="336.1" rx="3" ry="2.5"/>
<ellipse cx="633.3" cy="338.4" rx="3" ry="2.5"/>
<ellipse cx="646.5" cy="337.5" rx="3" ry="2.5"/>
<ellipse cx="616.4" cy="340.9" rx="3" ry="2.5"/>
</g>
<g stroke="#9a2a36" stroke-width="1.15">
<line x1="70.8" y1="127.2" x2="264.6" y2="86.7"/>
<line x1="326.6" y1="126.2" x2="512.7" y2="117.6"/>
<line x1="583.3" y1="130.2" x2="747.5" y2="91.5"/>
<line x1="68.6" y1="329.9" x2="264.8" y2="304.6"/>
<line x1="330.5" y1="320.2" x2="515.6" y2="311.8"/>
<line x1="570.8" y1="325.3" x2="746.4" y2="305.8"/>
</g>
<g stroke="#2b2b2b" stroke-width="1.1" fill="none">
<line x1="59.5" y1="164.3" x2="59.5" y2="25.2"/>
<line x1="56.0" y1="164.30" x2="59.5" y2="164.30"/>
<line x1="56.0" y1="141.12" x2="59.5" y2="141.12"/>
<line x1="56.0" y1="117.94" x2="59.5" y2="117.94"/>
<line x1="56.0" y1="94.75" x2="59.5" y2="94.75"/>
<line x1="56.0" y1="71.57" x2="59.5" y2="71.57"/>
<line x1="56.0" y1="48.39" x2="59.5" y2="48.39"/>
<line x1="56.0" y1="25.21" x2="59.5" y2="25.21"/>
<line x1="57.7" y1="152.71" x2="59.5" y2="152.71"/>
<line x1="57.7" y1="129.53" x2="59.5" y2="129.53"/>
<line x1="57.7" y1="106.34" x2="59.5" y2="106.34"/>
<line x1="57.7" y1="83.16" x2="59.5" y2="83.16"/>
<line x1="57.7" y1="59.98" x2="59.5" y2="59.98"/>
<line x1="57.7" y1="36.80" x2="59.5" y2="36.80"/>
<line x1="59.5" y1="164.3" x2="268.5" y2="164.3"/>
<line x1="59.50" y1="164.3" x2="59.50" y2="168.3"/>
<line x1="94.34" y1="164.3" x2="94.34" y2="168.3"/>
<line x1="129.17" y1="164.3" x2="129.17" y2="168.3"/>
<line x1="164.00" y1="164.3" x2="164.00" y2="168.3"/>
<line x1="198.84" y1="164.3" x2="198.84" y2="168.3"/>
<line x1="233.67" y1="164.3" x2="233.67" y2="168.3"/>
<line x1="268.51" y1="164.3" x2="268.51" y2="168.3"/>
<line x1="76.92" y1="164.3" x2="76.92" y2="166.5"/>
<line x1="111.75" y1="164.3" x2="111.75" y2="166.5"/>
<line x1="146.59" y1="164.3" x2="146.59" y2="166.5"/>
<line x1="181.42" y1="164.3" x2="181.42" y2="166.5"/>
<line x1="216.26" y1="164.3" x2="216.26" y2="166.5"/>
<line x1="251.09" y1="164.3" x2="251.09" y2="166.5"/>
<line x1="313.0" y1="167.4" x2="313.0" y2="27.5"/>
<line x1="308.5" y1="167.10" x2="313.0" y2="167.10"/>
<line x1="308.5" y1="147.16" x2="313.0" y2="147.16"/>
<line x1="308.5" y1="127.22" x2="313.0" y2="127.22"/>
<line x1="308.5" y1="107.28" x2="313.0" y2="107.28"/>
<line x1="308.5" y1="87.34" x2="313.0" y2="87.34"/>
<line x1="308.5" y1="67.40" x2="313.0" y2="67.40"/>
<line x1="308.5" y1="47.46" x2="313.0" y2="47.46"/>
<line x1="308.5" y1="27.52" x2="313.0" y2="27.52"/>
<line x1="310.4" y1="157.13" x2="313.0" y2="157.13"/>
<line x1="310.4" y1="137.19" x2="313.0" y2="137.19"/>
<line x1="310.4" y1="117.25" x2="313.0" y2="117.25"/>
<line x1="310.4" y1="97.31" x2="313.0" y2="97.31"/>
<line x1="310.4" y1="77.37" x2="313.0" y2="77.37"/>
<line x1="310.4" y1="57.43" x2="313.0" y2="57.43"/>
<line x1="310.4" y1="37.49" x2="313.0" y2="37.49"/>
<line x1="313.0" y1="167.4" x2="522.4" y2="167.4"/>
<line x1="313.00" y1="167.4" x2="313.00" y2="171.4"/>
<line x1="347.90" y1="167.4" x2="347.90" y2="171.4"/>
<line x1="382.80" y1="167.4" x2="382.80" y2="171.4"/>
<line x1="417.70" y1="167.4" x2="417.70" y2="171.4"/>
<line x1="452.60" y1="167.4" x2="452.60" y2="171.4"/>
<line x1="487.50" y1="167.4" x2="487.50" y2="171.4"/>
<line x1="522.40" y1="167.4" x2="522.40" y2="171.4"/>
<line x1="330.45" y1="167.4" x2="330.45" y2="169.6"/>
<line x1="365.35" y1="167.4" x2="365.35" y2="169.6"/>
<line x1="400.25" y1="167.4" x2="400.25" y2="169.6"/>
<line x1="435.15" y1="167.4" x2="435.15" y2="169.6"/>
<line x1="470.05" y1="167.4" x2="470.05" y2="169.6"/>
<line x1="504.95" y1="167.4" x2="504.95" y2="169.6"/>
<line x1="558.2" y1="163.6" x2="558.2" y2="23.5"/>
<line x1="553.9000000000001" y1="163.60" x2="558.2" y2="163.60"/>
<line x1="553.9000000000001" y1="140.25" x2="558.2" y2="140.25"/>
<line x1="553.9000000000001" y1="116.90" x2="558.2" y2="116.90"/>
<line x1="553.9000000000001" y1="93.55" x2="558.2" y2="93.55"/>
<line x1="553.9000000000001" y1="70.20" x2="558.2" y2="70.20"/>
<line x1="553.9000000000001" y1="46.85" x2="558.2" y2="46.85"/>
<line x1="553.9000000000001" y1="23.50" x2="558.2" y2="23.50"/>
<line x1="555.7" y1="151.92" x2="558.2" y2="151.92"/>
<line x1="555.7" y1="128.57" x2="558.2" y2="128.57"/>
<line x1="555.7" y1="105.22" x2="558.2" y2="105.22"/>
<line x1="555.7" y1="81.87" x2="558.2" y2="81.87"/>
<line x1="555.7" y1="58.52" x2="558.2" y2="58.52"/>
<line x1="555.7" y1="35.17" x2="558.2" y2="35.17"/>
<line x1="558.2" y1="163.6" x2="770.4" y2="163.6"/>
<line x1="581.78" y1="163.6" x2="581.78" y2="167.6"/>
<line x1="628.94" y1="163.6" x2="628.94" y2="167.6"/>
<line x1="676.10" y1="163.6" x2="676.10" y2="167.6"/>
<line x1="723.26" y1="163.6" x2="723.26" y2="167.6"/>
<line x1="770.42" y1="163.6" x2="770.42" y2="167.6"/>
<line x1="605.36" y1="163.6" x2="605.36" y2="165.79999999999998"/>
<line x1="652.52" y1="163.6" x2="652.52" y2="165.79999999999998"/>
<line x1="699.68" y1="163.6" x2="699.68" y2="165.79999999999998"/>
<line x1="746.84" y1="163.6" x2="746.84" y2="165.79999999999998"/>
<line x1="59.8" y1="356.4" x2="59.8" y2="218.1"/>
<line x1="55.55" y1="349.20" x2="59.8" y2="349.20"/>
<line x1="55.55" y1="330.47" x2="59.8" y2="330.47"/>
<line x1="55.55" y1="311.74" x2="59.8" y2="311.74"/>
<line x1="55.55" y1="293.01" x2="59.8" y2="293.01"/>
<line x1="55.55" y1="274.28" x2="59.8" y2="274.28"/>
<line x1="55.55" y1="255.55" x2="59.8" y2="255.55"/>
<line x1="55.55" y1="236.82" x2="59.8" y2="236.82"/>
<line x1="55.55" y1="218.09" x2="59.8" y2="218.09"/>
<line x1="57.3" y1="339.83" x2="59.8" y2="339.83"/>
<line x1="57.3" y1="321.11" x2="59.8" y2="321.11"/>
<line x1="57.3" y1="302.38" x2="59.8" y2="302.38"/>
<line x1="57.3" y1="283.64" x2="59.8" y2="283.64"/>
<line x1="57.3" y1="264.91" x2="59.8" y2="264.91"/>
<line x1="57.3" y1="246.19" x2="59.8" y2="246.19"/>
<line x1="57.3" y1="227.45" x2="59.8" y2="227.45"/>
<line x1="59.8" y1="356.4" x2="268.5" y2="356.4"/>
<line x1="59.80" y1="356.4" x2="59.80" y2="360.4"/>
<line x1="94.58" y1="356.4" x2="94.58" y2="360.4"/>
<line x1="129.37" y1="356.4" x2="129.37" y2="360.4"/>
<line x1="164.16" y1="356.4" x2="164.16" y2="360.4"/>
<line x1="198.94" y1="356.4" x2="198.94" y2="360.4"/>
<line x1="233.72" y1="356.4" x2="233.72" y2="360.4"/>
<line x1="268.51" y1="356.4" x2="268.51" y2="360.4"/>
<line x1="77.19" y1="356.4" x2="77.19" y2="358.59999999999997"/>
<line x1="111.98" y1="356.4" x2="111.98" y2="358.59999999999997"/>
<line x1="146.76" y1="356.4" x2="146.76" y2="358.59999999999997"/>
<line x1="181.55" y1="356.4" x2="181.55" y2="358.59999999999997"/>
<line x1="216.33" y1="356.4" x2="216.33" y2="358.59999999999997"/>
<line x1="251.12" y1="356.4" x2="251.12" y2="358.59999999999997"/>
<line x1="316.3" y1="357.2" x2="316.3" y2="217.5"/>
<line x1="311.8" y1="345.80" x2="316.3" y2="345.80"/>
<line x1="311.8" y1="327.47" x2="316.3" y2="327.47"/>
<line x1="311.8" y1="309.14" x2="316.3" y2="309.14"/>
<line x1="311.8" y1="290.81" x2="316.3" y2="290.81"/>
<line x1="311.8" y1="272.48" x2="316.3" y2="272.48"/>
<line x1="311.8" y1="254.15" x2="316.3" y2="254.15"/>
<line x1="311.8" y1="235.82" x2="316.3" y2="235.82"/>
<line x1="311.8" y1="217.49" x2="316.3" y2="217.49"/>
<line x1="313.5" y1="354.97" x2="316.3" y2="354.97"/>
<line x1="313.5" y1="336.63" x2="316.3" y2="336.63"/>
<line x1="313.5" y1="318.31" x2="316.3" y2="318.31"/>
<line x1="313.5" y1="299.98" x2="316.3" y2="299.98"/>
<line x1="313.5" y1="281.64" x2="316.3" y2="281.64"/>
<line x1="313.5" y1="263.31" x2="316.3" y2="263.31"/>
<line x1="313.5" y1="244.99" x2="316.3" y2="244.99"/>
<line x1="313.5" y1="226.66" x2="316.3" y2="226.66"/>
<line x1="316.3" y1="357.2" x2="526.0" y2="357.2"/>
<line x1="316.30" y1="357.2" x2="316.30" y2="361.2"/>
<line x1="351.25" y1="357.2" x2="351.25" y2="361.2"/>
<line x1="386.20" y1="357.2" x2="386.20" y2="361.2"/>
<line x1="421.15" y1="357.2" x2="421.15" y2="361.2"/>
<line x1="456.10" y1="357.2" x2="456.10" y2="361.2"/>
<line x1="491.05" y1="357.2" x2="491.05" y2="361.2"/>
<line x1="526.00" y1="357.2" x2="526.00" y2="361.2"/>
<line x1="333.78" y1="357.2" x2="333.78" y2="359.4"/>
<line x1="368.73" y1="357.2" x2="368.73" y2="359.4"/>
<line x1="403.68" y1="357.2" x2="403.68" y2="359.4"/>
<line x1="438.62" y1="357.2" x2="438.62" y2="359.4"/>
<line x1="473.58" y1="357.2" x2="473.58" y2="359.4"/>
<line x1="508.52" y1="357.2" x2="508.52" y2="359.4"/>
<line x1="558.9" y1="355.6" x2="558.9" y2="216.2"/>
<line x1="554.4" y1="345.60" x2="558.9" y2="345.60"/>
<line x1="554.4" y1="327.11" x2="558.9" y2="327.11"/>
<line x1="554.4" y1="308.62" x2="558.9" y2="308.62"/>
<line x1="554.4" y1="290.13" x2="558.9" y2="290.13"/>
<line x1="554.4" y1="271.64" x2="558.9" y2="271.64"/>
<line x1="554.4" y1="253.15" x2="558.9" y2="253.15"/>
<line x1="554.4" y1="234.66" x2="558.9" y2="234.66"/>
<line x1="554.4" y1="216.17" x2="558.9" y2="216.17"/>
<line x1="556.1999999999999" y1="354.85" x2="558.9" y2="354.85"/>
<line x1="556.1999999999999" y1="336.36" x2="558.9" y2="336.36"/>
<line x1="556.1999999999999" y1="317.87" x2="558.9" y2="317.87"/>
<line x1="556.1999999999999" y1="299.38" x2="558.9" y2="299.38"/>
<line x1="556.1999999999999" y1="280.88" x2="558.9" y2="280.88"/>
<line x1="556.1999999999999" y1="262.40" x2="558.9" y2="262.40"/>
<line x1="556.1999999999999" y1="243.91" x2="558.9" y2="243.91"/>
<line x1="556.1999999999999" y1="225.42" x2="558.9" y2="225.42"/>
<line x1="561.3" y1="356.5" x2="773.7" y2="356.5"/>
<line x1="570.90" y1="356.5" x2="570.90" y2="360.5"/>
<line x1="620.98" y1="356.5" x2="620.98" y2="360.5"/>
<line x1="671.06" y1="356.5" x2="671.06" y2="360.5"/>
<line x1="721.14" y1="356.5" x2="721.14" y2="360.5"/>
<line x1="771.22" y1="356.5" x2="771.22" y2="360.5"/>
<line x1="595.94" y1="356.5" x2="595.94" y2="358.7"/>
<line x1="646.02" y1="356.5" x2="646.02" y2="358.7"/>
<line x1="696.10" y1="356.5" x2="696.10" y2="358.7"/>
<line x1="746.18" y1="356.5" x2="746.18" y2="358.7"/>
</g>
<g font-family="Liberation Sans, sans-serif" font-size="10" fill="#222" stroke="#222" stroke-width="0.25">
<text x="51.15" y="168.15" text-anchor="end">75</text>
<text x="51.15" y="144.97" text-anchor="end">100</text>
<text x="51.15" y="121.78" text-anchor="end">125</text>
<text x="51.15" y="98.60" text-anchor="end">150</text>
<text x="51.15" y="75.42" text-anchor="end">175</text>
<text x="51.15" y="52.24" text-anchor="end">200</text>
<text x="51.15" y="29.06" text-anchor="end">225</text>
<text x="57.70" y="179.40" text-anchor="middle">15</text>
<text x="92.54" y="179.40" text-anchor="middle">20</text>
<text x="127.37" y="179.40" text-anchor="middle">25</text>
<text x="162.20" y="179.40" text-anchor="middle">30</text>
<text x="197.04" y="179.40" text-anchor="middle">35</text>
<text x="231.87" y="179.40" text-anchor="middle">40</text>
<text x="266.71" y="179.40" text-anchor="middle">45</text>
<text x="303.15" y="171.80" text-anchor="end">75</text>
<text x="303.15" y="151.86" text-anchor="end">100</text>
<text x="303.15" y="131.92" text-anchor="end">125</text>
<text x="303.15" y="111.98" text-anchor="end">150</text>
<text x="303.15" y="92.04" text-anchor="end">175</text>
<text x="303.15" y="72.10" text-anchor="end">200</text>
<text x="303.15" y="52.16" text-anchor="end">225</text>
<text x="303.15" y="32.22" text-anchor="end">250</text>
<text x="311.40" y="181.75" text-anchor="middle">0</text>
<text x="346.30" y="181.75" text-anchor="middle">10</text>
<text x="381.20" y="181.75" text-anchor="middle">20</text>
<text x="416.10" y="181.75" text-anchor="middle">30</text>
<text x="451.00" y="181.75" text-anchor="middle">40</text>
<text x="485.90" y="181.75" text-anchor="middle">50</text>
<text x="520.80" y="181.75" text-anchor="middle">60</text>
<text x="548.45" y="167.90" text-anchor="end">75</text>
<text x="548.45" y="144.55" text-anchor="end">100</text>
<text x="548.45" y="121.20" text-anchor="end">125</text>
<text x="548.45" y="97.85" text-anchor="end">150</text>
<text x="548.45" y="74.50" text-anchor="end">175</text>
<text x="548.45" y="51.15" text-anchor="end">200</text>
<text x="548.45" y="27.80" text-anchor="end">225</text>
<text x="579.48" y="179.80" text-anchor="middle">60</text>
<text x="626.64" y="179.80" text-anchor="middle">80</text>
<text x="673.80" y="179.80" text-anchor="middle">100</text>
<text x="720.96" y="179.80" text-anchor="middle">120</text>
<text x="768.12" y="179.80" text-anchor="middle">140</text>
<text x="50.20" y="353.00" text-anchor="end">50</text>
<text x="50.20" y="334.27" text-anchor="end">75</text>
<text x="50.20" y="315.54" text-anchor="end">100</text>
<text x="50.20" y="296.81" text-anchor="end">125</text>
<text x="50.20" y="278.08" text-anchor="end">150</text>
<text x="50.20" y="259.35" text-anchor="end">175</text>
<text x="50.20" y="240.62" text-anchor="end">200</text>
<text x="50.20" y="221.89" text-anchor="end">225</text>
<text x="59.00" y="372.30" text-anchor="middle">15</text>
<text x="93.78" y="372.30" text-anchor="middle">20</text>
<text x="128.57" y="372.30" text-anchor="middle">25</text>
<text x="163.35" y="372.30" text-anchor="middle">30</text>
<text x="198.14" y="372.30" text-anchor="middle">35</text>
<text x="232.92" y="372.30" text-anchor="middle">40</text>
<text x="267.71" y="372.30" text-anchor="middle">45</text>
<text x="307.20" y="350.50" text-anchor="end">50</text>
<text x="307.20" y="332.17" text-anchor="end">75</text>
<text x="307.20" y="313.84" text-anchor="end">100</text>
<text x="307.20" y="295.51" text-anchor="end">125</text>
<text x="307.20" y="277.18" text-anchor="end">150</text>
<text x="307.20" y="258.85" text-anchor="end">175</text>
<text x="307.20" y="240.52" text-anchor="end">200</text>
<text x="307.20" y="222.19" text-anchor="end">225</text>
<text x="314.30" y="371.95" text-anchor="middle">0</text>
<text x="349.25" y="371.95" text-anchor="middle">10</text>
<text x="384.20" y="371.95" text-anchor="middle">20</text>
<text x="419.15" y="371.95" text-anchor="middle">30</text>
<text x="454.10" y="371.95" text-anchor="middle">40</text>
<text x="489.05" y="371.95" text-anchor="middle">50</text>
<text x="524.00" y="371.95" text-anchor="middle">60</text>
<text x="549.30" y="349.40" text-anchor="end">50</text>
<text x="549.30" y="330.91" text-anchor="end">75</text>
<text x="549.30" y="312.42" text-anchor="end">100</text>
<text x="549.30" y="293.93" text-anchor="end">125</text>
<text x="549.30" y="275.44" text-anchor="end">150</text>
<text x="549.30" y="256.95" text-anchor="end">175</text>
<text x="549.30" y="238.46" text-anchor="end">200</text>
<text x="549.30" y="219.97" text-anchor="end">225</text>
<text x="568.90" y="371.70" text-anchor="middle">60</text>
<text x="618.98" y="371.70" text-anchor="middle">80</text>
<text x="669.06" y="371.70" text-anchor="middle">100</text>
<text x="719.14" y="371.70" text-anchor="middle">120</text>
<text x="769.22" y="371.70" text-anchor="middle">140</text>
</g>
<g font-family="Liberation Sans, sans-serif" font-size="12" font-weight="bold" font-style="italic" fill="#111" text-anchor="middle">
<text x="236.2" y="36.1">r<tspan font-size="8.6" dy="-5.6">2</tspan><tspan dy="5.6">=0.37</tspan></text>
<text x="236.2" y="48.9">p&lt;0.0001</text>
<text x="490.3" y="36.1">r<tspan font-size="8.6" dy="-5.6">2</tspan><tspan dy="5.6">=0.07</tspan></text>
<text x="490.3" y="48.4">p=0.12</text>
<text x="735.9" y="35.8">r<tspan font-size="8.6" dy="-5.6">2</tspan><tspan dy="5.6">=0.37</tspan></text>
<text x="735.9" y="48.1">p&lt;0.0001</text>
<text x="237.8" y="234.5">r<tspan font-size="8.6" dy="-5.6">2</tspan><tspan dy="5.6">=0.31</tspan></text>
<text x="237.8" y="247.0">p&lt;0.0001</text>
<text x="490.0" y="234.5">r<tspan font-size="8.6" dy="-5.6">2</tspan><tspan dy="5.6">=0.11</tspan></text>
<text x="490.0" y="247.0">p=0.009</text>
<text x="738.0" y="234.5">r<tspan font-size="8.6" dy="-5.6">2</tspan><tspan dy="5.6">=0.28</tspan></text>
<text x="738.0" y="247.0">p&lt;0.0001</text>
</g>
<g font-family="Liberation Sans, sans-serif" font-size="20" font-weight="bold" fill="#000">
<text x="2.5" y="15">a</text>
<text x="279" y="15">b</text>
<text x="518.2" y="15">c</text>
<text x="2.5" y="209.8">d</text>
<text x="279" y="209.8">e</text>
<text x="518.2" y="209.8">f</text>
</g>
<g font-family="Liberation Sans, sans-serif" font-size="13.1" fill="#2a2a2a" text-anchor="middle">
<text transform="translate(10.3,95.8) rotate(-90)">Systolic blood pressure</text>
<text transform="translate(24.9,96.6) rotate(-90)" font-size="12.8">(mmHg)</text>
<text transform="translate(10.1,290.4) rotate(-90)">Diastolic blood pressure</text>
<text transform="translate(24.8,289.6) rotate(-90)" font-size="12.8">(mmHg)</text>
<text x="158.4" y="396.5">BMI (kg/m<tspan font-size="8.5" dy="-4.5">2</tspan><tspan dy="4.5">)</tspan></text>
<text x="411.3" y="397">Triciptal skinfold (mm)</text>
<text x="647" y="397">Waist circumference (cm)</text>
</g>
</svg>
</body></html>
